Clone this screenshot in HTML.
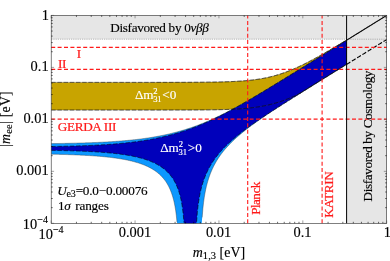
<!DOCTYPE html>
<html><head><meta charset="utf-8">
<style>
html,body{margin:0;padding:0;background:#fff;}
body{width:390px;height:261px;overflow:hidden;position:relative;}
svg{position:absolute;left:0;top:0;will-change:transform;}
text{font-family:"Liberation Serif",serif;}
.t{font-size:14.4px;fill:#000;stroke:#000;stroke-width:0.15px;}
.a{font-size:12.5px;}
.r{fill:#ff2020;}
.w{fill:#fff;}
.i{font-style:italic;}
</style></head><body>
<svg width="390" height="261" viewBox="0 0 390 261">
<defs>
<clipPath id="cpL"><rect x="51.2" y="15.4" width="295.4" height="207.9"/></clipPath>
<clipPath id="cpA"><rect x="51.2" y="15.4" width="335.5" height="207.9"/></clipPath>
<clipPath id="cpR"><rect x="346.6" y="15.4" width="40.1" height="207.9"/></clipPath>
</defs>
<rect x="0" y="0" width="390" height="261" fill="#fff"/>
<!-- grey regions -->
<rect x="51.2" y="15.4" width="295.4" height="23.8" fill="#e6e6e6"/>
<rect x="346.6" y="15.4" width="40.1" height="207.9" fill="#e6e6e6"/>
<!-- bands -->
<g clip-path="url(#cpL)">
<polygon points="51.20,82.39 51.90,82.39 52.60,82.39 53.30,82.39 54.00,82.39 54.69,82.39 55.39,82.39 56.09,82.39 56.79,82.39 57.49,82.39 58.19,82.39 58.89,82.39 59.59,82.39 60.29,82.39 60.99,82.39 61.68,82.39 62.38,82.39 63.08,82.39 63.78,82.39 64.48,82.39 65.18,82.39 65.88,82.39 66.58,82.39 67.28,82.39 67.98,82.39 68.67,82.39 69.37,82.39 70.07,82.39 70.77,82.39 71.47,82.39 72.17,82.39 72.87,82.39 73.57,82.39 74.27,82.39 74.96,82.39 75.66,82.39 76.36,82.39 77.06,82.39 77.76,82.39 78.46,82.39 79.16,82.39 79.86,82.39 80.56,82.39 81.26,82.39 81.95,82.39 82.65,82.39 83.35,82.39 84.05,82.39 84.75,82.39 85.45,82.39 86.15,82.39 86.85,82.39 87.55,82.39 88.24,82.39 88.94,82.39 89.64,82.39 90.34,82.39 91.04,82.39 91.74,82.39 92.44,82.39 93.14,82.39 93.84,82.39 94.54,82.39 95.23,82.39 95.93,82.39 96.63,82.39 97.33,82.39 98.03,82.39 98.73,82.39 99.43,82.39 100.13,82.39 100.83,82.39 101.53,82.39 102.22,82.39 102.92,82.39 103.62,82.39 104.32,82.39 105.02,82.39 105.72,82.39 106.42,82.39 107.12,82.39 107.82,82.39 108.51,82.39 109.21,82.39 109.91,82.39 110.61,82.39 111.31,82.39 112.01,82.39 112.71,82.39 113.41,82.39 114.11,82.39 114.81,82.39 115.50,82.39 116.20,82.39 116.90,82.39 117.60,82.39 118.30,82.39 119.00,82.39 119.70,82.39 120.40,82.39 121.10,82.39 121.79,82.39 122.49,82.39 123.19,82.39 123.89,82.39 124.59,82.39 125.29,82.39 125.99,82.39 126.69,82.39 127.39,82.39 128.09,82.39 128.78,82.39 129.48,82.38 130.18,82.38 130.88,82.38 131.58,82.38 132.28,82.38 132.98,82.38 133.68,82.38 134.38,82.38 135.07,82.38 135.77,82.38 136.47,82.38 137.17,82.38 137.87,82.38 138.57,82.38 139.27,82.38 139.97,82.38 140.67,82.38 141.37,82.38 142.06,82.38 142.76,82.38 143.46,82.38 144.16,82.38 144.86,82.38 145.56,82.38 146.26,82.38 146.96,82.38 147.66,82.38 148.36,82.38 149.05,82.38 149.75,82.38 150.45,82.38 151.15,82.38 151.85,82.38 152.55,82.38 153.25,82.38 153.95,82.38 154.65,82.38 155.34,82.38 156.04,82.37 156.74,82.37 157.44,82.37 158.14,82.37 158.84,82.37 159.54,82.37 160.24,82.37 160.94,82.37 161.64,82.37 162.33,82.37 163.03,82.37 163.73,82.37 164.43,82.37 165.13,82.37 165.83,82.37 166.53,82.36 167.23,82.36 167.93,82.36 168.62,82.36 169.32,82.36 170.02,82.36 170.72,82.36 171.42,82.36 172.12,82.36 172.82,82.35 173.52,82.35 174.22,82.35 174.92,82.35 175.61,82.35 176.31,82.35 177.01,82.35 177.71,82.34 178.41,82.34 179.11,82.34 179.81,82.34 180.51,82.34 181.21,82.33 181.91,82.33 182.60,82.33 183.30,82.33 184.00,82.33 184.70,82.32 185.40,82.32 186.10,82.32 186.80,82.32 187.50,82.31 188.20,82.31 188.89,82.31 189.59,82.30 190.29,82.30 190.99,82.30 191.69,82.29 192.39,82.29 193.09,82.29 193.79,82.28 194.49,82.28 195.19,82.27 195.88,82.27 196.58,82.26 197.28,82.26 197.98,82.25 198.68,82.25 199.38,82.24 200.08,82.24 200.78,82.23 201.48,82.23 202.18,82.22 202.87,82.21 203.57,82.21 204.27,82.20 204.97,82.19 205.67,82.18 206.37,82.18 207.07,82.17 207.77,82.16 208.47,82.15 209.16,82.14 209.86,82.13 210.56,82.12 211.26,82.11 211.96,82.10 212.66,82.09 213.36,82.08 214.06,82.07 214.76,82.05 215.46,82.04 216.15,82.03 216.85,82.01 217.55,82.00 218.25,81.98 218.95,81.97 219.65,81.95 220.35,81.94 221.05,81.92 221.75,81.90 222.44,81.88 223.14,81.86 223.84,81.84 224.54,81.82 225.24,81.80 225.94,81.78 226.64,81.76 227.34,81.73 228.04,81.71 228.74,81.68 229.43,81.65 230.13,81.63 230.83,81.60 231.53,81.57 232.23,81.54 232.93,81.50 233.63,81.47 234.33,81.44 235.03,81.40 235.73,81.36 236.42,81.33 237.12,81.29 237.82,81.24 238.52,81.20 239.22,81.16 239.92,81.11 240.62,81.07 241.32,81.02 242.02,80.97 242.71,80.91 243.41,80.86 244.11,80.81 244.81,80.75 245.51,80.69 246.21,80.63 246.91,80.56 247.61,80.50 248.31,80.43 249.01,80.36 249.70,80.29 250.40,80.21 251.10,80.13 251.80,80.05 252.50,79.97 253.20,79.89 253.90,79.80 254.60,79.71 255.30,79.62 255.99,79.52 256.69,79.42 257.39,79.32 258.09,79.22 258.79,79.11 259.49,79.00 260.19,78.88 260.89,78.77 261.59,78.65 262.29,78.52 262.98,78.40 263.68,78.27 264.38,78.13 265.08,77.99 265.78,77.85 266.48,77.71 267.18,77.56 267.88,77.40 268.58,77.25 269.28,77.09 269.97,76.92 270.67,76.76 271.37,76.58 272.07,76.41 272.77,76.23 273.47,76.04 274.17,75.85 274.87,75.66 275.57,75.47 276.26,75.26 276.96,75.06 277.66,74.85 278.36,74.64 279.06,74.42 279.76,74.20 280.46,73.97 281.16,73.74 281.86,73.51 282.56,73.27 283.25,73.03 283.95,72.78 284.65,72.53 285.35,72.28 286.05,72.02 286.75,71.76 287.45,71.49 288.15,71.22 288.85,70.95 289.54,70.67 290.24,70.39 290.94,70.10 291.64,69.81 292.34,69.52 293.04,69.23 293.74,68.93 294.44,68.62 295.14,68.32 295.84,68.00 296.53,67.69 297.23,67.37 297.93,67.05 298.63,66.73 299.33,66.40 300.03,66.07 300.73,65.74 301.43,65.41 302.13,65.07 302.82,64.73 303.52,64.38 304.22,64.04 304.92,63.69 305.62,63.34 306.32,62.98 307.02,62.62 307.72,62.27 308.42,61.90 309.12,61.54 309.81,61.17 310.51,60.81 311.21,60.44 311.91,60.06 312.61,59.69 313.31,59.31 314.01,58.94 314.71,58.56 315.41,58.17 316.11,57.79 316.80,57.41 317.50,57.02 318.20,56.63 318.90,56.24 319.60,55.85 320.30,55.46 321.00,55.06 321.70,54.67 322.40,54.27 323.09,53.87 323.79,53.47 324.49,53.07 325.19,52.67 325.89,52.27 326.59,51.87 327.29,51.46 327.99,51.06 328.69,50.65 329.39,50.24 330.08,49.83 330.78,49.42 331.48,49.01 332.18,48.60 332.88,48.19 333.58,47.78 334.28,47.37 334.98,46.95 335.68,46.54 336.38,46.12 337.07,45.71 337.77,45.29 338.47,44.87 339.17,44.45 339.87,44.04 340.57,43.62 341.27,43.20 341.97,42.78 342.67,42.36 343.36,41.94 344.06,41.51 344.76,41.09 345.46,40.67 346.16,40.25 346.86,39.83 347.56,39.40 348.26,38.98 348.96,38.55 349.66,38.13 350.35,37.71 351.05,37.28 351.75,36.85 352.45,36.43 353.15,36.00 353.85,35.58 354.55,35.15 355.25,34.72 355.95,34.30 356.64,33.87 357.34,33.44 358.04,33.02 358.74,32.59 359.44,32.16 360.14,31.73 360.84,31.30 361.54,30.87 362.24,30.45 362.94,30.02 363.63,29.59 364.33,29.16 365.03,28.73 365.73,28.30 366.43,27.87 367.13,27.44 367.83,27.01 368.53,26.58 369.23,26.15 369.92,25.72 370.62,25.29 371.32,24.86 372.02,24.43 372.72,24.00 373.42,23.57 374.12,23.14 374.82,22.71 375.52,22.27 376.22,21.84 376.91,21.41 377.61,20.98 378.31,20.55 379.01,20.12 379.71,19.69 380.41,19.26 381.11,18.82 381.81,18.39 382.51,17.96 383.21,17.53 383.90,17.10 384.60,16.67 385.30,16.23 386.00,15.80 386.70,15.37 386.70,39.32 386.00,39.76 385.30,40.19 384.60,40.62 383.90,41.06 383.21,41.49 382.51,41.92 381.81,42.36 381.11,42.79 380.41,43.22 379.71,43.66 379.01,44.09 378.31,44.52 377.61,44.96 376.91,45.39 376.22,45.82 375.52,46.26 374.82,46.69 374.12,47.12 373.42,47.56 372.72,47.99 372.02,48.42 371.32,48.85 370.62,49.29 369.92,49.72 369.23,50.15 368.53,50.59 367.83,51.02 367.13,51.45 366.43,51.89 365.73,52.32 365.03,52.75 364.33,53.19 363.63,53.62 362.94,54.05 362.24,54.49 361.54,54.92 360.84,55.35 360.14,55.79 359.44,56.22 358.74,56.65 358.04,57.09 357.34,57.52 356.64,57.95 355.95,58.39 355.25,58.82 354.55,59.25 353.85,59.69 353.15,60.12 352.45,60.55 351.75,60.99 351.05,61.42 350.35,61.85 349.66,62.29 348.96,62.72 348.26,63.15 347.56,63.59 346.86,64.02 346.16,64.45 345.46,64.89 344.76,65.32 344.06,65.76 343.36,66.19 342.67,66.62 341.97,67.06 341.27,67.49 340.57,67.92 339.87,68.36 339.17,68.79 338.47,69.22 337.77,69.66 337.07,70.09 336.38,70.53 335.68,70.96 334.98,71.39 334.28,71.83 333.58,72.26 332.88,72.70 332.18,73.13 331.48,73.56 330.78,74.00 330.08,74.43 329.39,74.87 328.69,75.30 327.99,75.73 327.29,76.17 326.59,76.60 325.89,77.04 325.19,77.47 324.49,77.91 323.79,78.34 323.09,78.77 322.40,79.21 321.70,79.64 321.00,80.08 320.30,80.51 319.60,80.95 318.90,81.38 318.20,81.82 317.50,82.25 316.80,82.69 316.11,83.12 315.41,83.56 314.71,83.99 314.01,84.43 313.31,84.86 312.61,85.30 311.91,85.74 311.21,86.17 310.51,86.61 309.81,87.04 309.12,87.48 308.42,87.91 307.72,88.35 307.02,88.79 306.32,89.22 305.62,89.66 304.92,90.10 304.22,90.53 303.52,90.97 302.82,91.41 302.13,91.85 301.43,92.28 300.73,92.72 300.03,93.16 299.33,93.60 298.63,94.04 297.93,94.47 297.23,94.83 296.53,95.15 295.84,95.47 295.14,95.79 294.44,96.10 293.74,96.41 293.04,96.71 292.34,97.01 291.64,97.31 290.94,97.60 290.24,97.89 289.54,98.18 288.85,98.46 288.15,98.74 287.45,99.01 286.75,99.28 286.05,99.55 285.35,99.81 284.65,100.07 283.95,100.33 283.25,100.58 282.56,100.82 281.86,101.07 281.16,101.31 280.46,101.54 279.76,101.77 279.06,102.00 278.36,102.22 277.66,102.44 276.96,102.65 276.26,102.86 275.57,103.06 274.87,103.26 274.17,103.46 273.47,103.65 272.77,103.84 272.07,104.03 271.37,104.21 270.67,104.38 269.97,104.56 269.28,104.72 268.58,104.89 267.88,105.05 267.18,105.20 266.48,105.36 265.78,105.51 265.08,105.65 264.38,105.79 263.68,105.93 262.98,106.06 262.29,106.19 261.59,106.32 260.89,106.44 260.19,106.56 259.49,106.68 258.79,106.79 258.09,106.90 257.39,107.01 256.69,107.11 255.99,107.22 255.30,107.31 254.60,107.41 253.90,107.50 253.20,107.59 252.50,107.68 251.80,107.76 251.10,107.84 250.40,107.92 249.70,108.00 249.01,108.07 248.31,108.14 247.61,108.21 246.91,108.28 246.21,108.34 245.51,108.40 244.81,108.46 244.11,108.52 243.41,108.58 242.71,108.63 242.02,108.69 241.32,108.74 240.62,108.79 239.92,108.83 239.22,108.88 238.52,108.92 237.82,108.97 237.12,109.01 236.42,109.05 235.73,109.09 235.03,109.12 234.33,109.16 233.63,109.19 232.93,109.23 232.23,109.26 231.53,109.29 230.83,109.32 230.13,109.35 229.43,109.37 228.74,109.40 228.04,109.43 227.34,109.45 226.64,109.48 225.94,109.50 225.24,109.52 224.54,109.54 223.84,109.56 223.14,109.58 222.44,109.60 221.75,109.62 221.05,109.64 220.35,109.65 219.65,109.67 218.95,109.68 218.25,109.70 217.55,109.71 216.85,109.73 216.15,109.74 215.46,109.75 214.76,109.77 214.06,109.78 213.36,109.79 212.66,109.80 211.96,109.81 211.26,109.82 210.56,109.83 209.86,109.84 209.16,109.85 208.47,109.86 207.77,109.87 207.07,109.87 206.37,109.88 205.67,109.89 204.97,109.90 204.27,109.90 203.57,109.91 202.87,109.91 202.18,109.92 201.48,109.93 200.78,109.93 200.08,109.94 199.38,109.94 198.68,109.95 197.98,109.95 197.28,109.96 196.58,109.96 195.88,109.96 195.19,109.97 194.49,109.97 193.79,109.98 193.09,109.98 192.39,109.98 191.69,109.99 190.99,109.99 190.29,109.99 189.59,109.99 188.89,110.00 188.20,110.00 187.50,110.00 186.80,110.00 186.10,110.01 185.40,110.01 184.70,110.01 184.00,110.01 183.30,110.01 182.60,110.02 181.91,110.02 181.21,110.02 180.51,110.02 179.81,110.02 179.11,110.02 178.41,110.02 177.71,110.03 177.01,110.03 176.31,110.03 175.61,110.03 174.92,110.03 174.22,110.03 173.52,110.03 172.82,110.03 172.12,110.03 171.42,110.04 170.72,110.04 170.02,110.04 169.32,110.04 168.62,110.04 167.93,110.04 167.23,110.04 166.53,110.04 165.83,110.04 165.13,110.04 164.43,110.04 163.73,110.04 163.03,110.04 162.33,110.04 161.64,110.04 160.94,110.04 160.24,110.04 159.54,110.04 158.84,110.05 158.14,110.05 157.44,110.05 156.74,110.05 156.04,110.05 155.34,110.05 154.65,110.05 153.95,110.05 153.25,110.05 152.55,110.05 151.85,110.05 151.15,110.05 150.45,110.05 149.75,110.05 149.05,110.05 148.36,110.05 147.66,110.05 146.96,110.05 146.26,110.05 145.56,110.05 144.86,110.05 144.16,110.05 143.46,110.05 142.76,110.05 142.06,110.05 141.37,110.05 140.67,110.05 139.97,110.05 139.27,110.05 138.57,110.05 137.87,110.05 137.17,110.05 136.47,110.05 135.77,110.05 135.07,110.05 134.38,110.05 133.68,110.05 132.98,110.05 132.28,110.05 131.58,110.05 130.88,110.05 130.18,110.05 129.48,110.05 128.78,110.05 128.09,110.05 127.39,110.05 126.69,110.05 125.99,110.05 125.29,110.05 124.59,110.05 123.89,110.05 123.19,110.05 122.49,110.05 121.79,110.05 121.10,110.05 120.40,110.05 119.70,110.05 119.00,110.05 118.30,110.05 117.60,110.05 116.90,110.05 116.20,110.05 115.50,110.05 114.81,110.05 114.11,110.05 113.41,110.05 112.71,110.05 112.01,110.05 111.31,110.05 110.61,110.05 109.91,110.05 109.21,110.05 108.51,110.05 107.82,110.05 107.12,110.05 106.42,110.05 105.72,110.05 105.02,110.05 104.32,110.05 103.62,110.05 102.92,110.05 102.22,110.05 101.53,110.05 100.83,110.05 100.13,110.05 99.43,110.05 98.73,110.05 98.03,110.05 97.33,110.05 96.63,110.05 95.93,110.05 95.23,110.05 94.54,110.05 93.84,110.05 93.14,110.05 92.44,110.05 91.74,110.05 91.04,110.05 90.34,110.05 89.64,110.05 88.94,110.05 88.24,110.05 87.55,110.05 86.85,110.05 86.15,110.05 85.45,110.05 84.75,110.05 84.05,110.05 83.35,110.05 82.65,110.05 81.95,110.05 81.26,110.05 80.56,110.05 79.86,110.05 79.16,110.05 78.46,110.05 77.76,110.05 77.06,110.05 76.36,110.05 75.66,110.05 74.96,110.05 74.27,110.05 73.57,110.05 72.87,110.05 72.17,110.05 71.47,110.05 70.77,110.05 70.07,110.05 69.37,110.05 68.67,110.05 67.98,110.05 67.28,110.05 66.58,110.05 65.88,110.05 65.18,110.05 64.48,110.05 63.78,110.05 63.08,110.05 62.38,110.05 61.68,110.05 60.99,110.05 60.29,110.05 59.59,110.05 58.89,110.05 58.19,110.05 57.49,110.05 56.79,110.05 56.09,110.05 55.39,110.05 54.69,110.05 54.00,110.05 53.30,110.05 52.60,110.05 51.90,110.05 51.20,110.05" fill="#c8a400"/>
<polygon points="51.20,143.59 51.90,143.59 52.60,143.58 53.30,143.57 54.00,143.56 54.69,143.55 55.39,143.54 56.09,143.53 56.79,143.52 57.49,143.51 58.19,143.49 58.89,143.48 59.59,143.47 60.29,143.46 60.99,143.45 61.68,143.44 62.38,143.43 63.08,143.41 63.78,143.40 64.48,143.39 65.18,143.37 65.88,143.36 66.58,143.35 67.28,143.33 67.98,143.32 68.67,143.31 69.37,143.29 70.07,143.28 70.77,143.26 71.47,143.24 72.17,143.23 72.87,143.21 73.57,143.20 74.27,143.18 74.96,143.16 75.66,143.15 76.36,143.13 77.06,143.11 77.76,143.09 78.46,143.07 79.16,143.05 79.86,143.03 80.56,143.01 81.26,142.99 81.95,142.97 82.65,142.95 83.35,142.93 84.05,142.91 84.75,142.89 85.45,142.87 86.15,142.84 86.85,142.82 87.55,142.80 88.24,142.77 88.94,142.75 89.64,142.72 90.34,142.70 91.04,142.67 91.74,142.64 92.44,142.62 93.14,142.59 93.84,142.56 94.54,142.53 95.23,142.51 95.93,142.48 96.63,142.45 97.33,142.42 98.03,142.38 98.73,142.35 99.43,142.32 100.13,142.29 100.83,142.25 101.53,142.22 102.22,142.18 102.92,142.15 103.62,142.11 104.32,142.08 105.02,142.04 105.72,142.00 106.42,141.96 107.12,141.92 107.82,141.88 108.51,141.84 109.21,141.80 109.91,141.76 110.61,141.72 111.31,141.67 112.01,141.63 112.71,141.58 113.41,141.54 114.11,141.49 114.81,141.44 115.50,141.39 116.20,141.35 116.90,141.29 117.60,141.24 118.30,141.19 119.00,141.14 119.70,141.08 120.40,141.03 121.10,140.97 121.79,140.92 122.49,140.86 123.19,140.80 123.89,140.74 124.59,140.68 125.29,140.62 125.99,140.56 126.69,140.49 127.39,140.43 128.09,140.36 128.78,140.29 129.48,140.23 130.18,140.16 130.88,140.09 131.58,140.01 132.28,139.94 132.98,139.87 133.68,139.79 134.38,139.72 135.07,139.64 135.77,139.56 136.47,139.48 137.17,139.40 137.87,139.31 138.57,139.23 139.27,139.14 139.97,139.06 140.67,138.97 141.37,138.88 142.06,138.79 142.76,138.69 143.46,138.60 144.16,138.50 144.86,138.40 145.56,138.31 146.26,138.20 146.96,138.10 147.66,138.00 148.36,137.89 149.05,137.79 149.75,137.68 150.45,137.57 151.15,137.46 151.85,137.34 152.55,137.23 153.25,137.11 153.95,136.99 154.65,136.87 155.34,136.75 156.04,136.62 156.74,136.50 157.44,136.37 158.14,136.24 158.84,136.11 159.54,135.97 160.24,135.84 160.94,135.70 161.64,135.56 162.33,135.42 163.03,135.27 163.73,135.13 164.43,134.98 165.13,134.83 165.83,134.68 166.53,134.52 167.23,134.37 167.93,134.21 168.62,134.05 169.32,133.89 170.02,133.72 170.72,133.56 171.42,133.39 172.12,133.21 172.82,133.04 173.52,132.87 174.22,132.69 174.92,132.51 175.61,132.32 176.31,132.14 177.01,131.95 177.71,131.76 178.41,131.57 179.11,131.37 179.81,131.18 180.51,130.98 181.21,130.78 181.91,130.57 182.60,130.36 183.30,130.15 184.00,129.94 184.70,129.73 185.40,129.51 186.10,129.29 186.80,129.07 187.50,128.85 188.20,128.62 188.89,128.39 189.59,128.16 190.29,127.92 190.99,127.69 191.69,127.45 192.39,127.20 193.09,126.96 193.79,126.71 194.49,126.46 195.19,126.21 195.88,125.96 196.58,125.70 197.28,125.44 197.98,125.17 198.68,124.91 199.38,124.64 200.08,124.37 200.78,124.10 201.48,123.82 202.18,123.54 202.87,123.26 203.57,122.98 204.27,122.69 204.97,122.40 205.67,122.11 206.37,121.82 207.07,121.52 207.77,121.22 208.47,120.92 209.16,120.62 209.86,120.31 210.56,120.00 211.26,119.69 211.96,119.38 212.66,119.06 213.36,118.75 214.06,118.43 214.76,118.10 215.46,117.78 216.15,117.45 216.85,117.12 217.55,116.79 218.25,116.45 218.95,116.12 219.65,115.78 220.35,115.44 221.05,115.09 221.75,114.75 222.44,114.40 223.14,114.05 223.84,113.70 224.54,113.35 225.24,112.99 225.94,112.63 226.64,112.27 227.34,111.91 228.04,111.55 228.74,111.18 229.43,110.82 230.13,110.45 230.83,110.08 231.53,109.71 232.23,109.33 232.93,108.96 233.63,108.58 234.33,108.20 235.03,107.82 235.73,107.44 236.42,107.06 237.12,106.67 237.82,106.29 238.52,105.90 239.22,105.51 239.92,105.12 240.62,104.73 241.32,104.34 242.02,103.94 242.71,103.55 243.41,103.15 244.11,102.75 244.81,102.35 245.51,101.96 246.21,101.55 246.91,101.15 247.61,100.75 248.31,100.35 249.01,99.94 249.70,99.54 250.40,99.13 251.10,98.72 251.80,98.31 252.50,97.90 253.20,97.49 253.90,97.08 254.60,96.67 255.30,96.26 255.99,95.85 256.69,95.43 257.39,95.02 258.09,94.60 258.79,94.19 259.49,93.77 260.19,93.36 260.89,92.94 261.59,92.52 262.29,92.10 262.98,91.68 263.68,91.27 264.38,90.85 265.08,90.42 265.78,90.00 266.48,89.58 267.18,89.16 267.88,88.74 268.58,88.32 269.28,87.89 269.97,87.47 270.67,87.05 271.37,86.62 272.07,86.20 272.77,85.77 273.47,85.35 274.17,84.92 274.87,84.50 275.57,84.07 276.26,83.65 276.96,83.22 277.66,82.79 278.36,82.37 279.06,81.94 279.76,81.51 280.46,81.09 281.16,80.66 281.86,80.23 282.56,79.80 283.25,79.37 283.95,78.95 284.65,78.52 285.35,78.09 286.05,77.66 286.75,77.23 287.45,76.80 288.15,76.37 288.85,75.94 289.54,75.51 290.24,75.08 290.94,74.65 291.64,74.22 292.34,73.79 293.04,73.36 293.74,72.93 294.44,72.50 295.14,72.07 295.84,71.64 296.53,71.21 297.23,70.78 297.93,70.35 298.63,69.92 299.33,69.49 300.03,69.06 300.73,68.63 301.43,68.19 302.13,67.76 302.82,67.33 303.52,66.90 304.22,66.47 304.92,66.04 305.62,65.60 306.32,65.17 307.02,64.74 307.72,64.31 308.42,63.88 309.12,63.45 309.81,63.01 310.51,62.58 311.21,62.15 311.91,61.72 312.61,61.29 313.31,60.85 314.01,60.42 314.71,59.99 315.41,59.56 316.11,59.12 316.80,58.69 317.50,58.26 318.20,57.83 318.90,57.39 319.60,56.96 320.30,56.53 321.00,56.10 321.70,55.66 322.40,55.23 323.09,54.80 323.79,54.37 324.49,53.93 325.19,53.50 325.89,53.07 326.59,52.64 327.29,52.20 327.99,51.77 328.69,51.34 329.39,50.91 330.08,50.47 330.78,50.04 331.48,49.61 332.18,49.17 332.88,48.74 333.58,48.31 334.28,47.88 334.98,47.44 335.68,47.01 336.38,46.58 337.07,46.15 337.77,45.71 338.47,45.28 339.17,44.85 339.87,44.41 340.57,43.98 341.27,43.55 341.97,43.11 342.67,42.68 343.36,42.25 344.06,41.82 344.76,41.38 345.46,40.95 346.16,40.52 346.86,40.08 347.56,39.65 348.26,39.22 348.96,38.79 349.66,38.35 350.35,37.92 351.05,37.49 351.75,37.05 352.45,36.62 353.15,36.19 353.85,35.75 354.55,35.32 355.25,34.89 355.95,34.46 356.64,34.02 357.34,33.59 358.04,33.16 358.74,32.72 359.44,32.29 360.14,31.86 360.84,31.42 361.54,30.99 362.24,30.56 362.94,30.12 363.63,29.69 364.33,29.26 365.03,28.83 365.73,28.39 366.43,27.96 367.13,27.53 367.83,27.09 368.53,26.66 369.23,26.23 369.92,25.79 370.62,25.36 371.32,24.93 372.02,24.49 372.72,24.06 373.42,23.63 374.12,23.20 374.82,22.76 375.52,22.33 376.22,21.90 376.91,21.46 377.61,21.03 378.31,20.60 379.01,20.16 379.71,19.73 380.41,19.30 381.11,18.86 381.81,18.43 382.51,18.00 383.21,17.57 383.90,17.13 384.60,16.70 385.30,16.27 386.00,15.83 386.70,15.40 386.70,39.55 386.00,39.98 385.30,40.42 384.60,40.85 383.90,41.28 383.21,41.71 382.51,42.15 381.81,42.58 381.11,43.01 380.41,43.45 379.71,43.88 379.01,44.31 378.31,44.75 377.61,45.18 376.91,45.61 376.22,46.05 375.52,46.48 374.82,46.91 374.12,47.35 373.42,47.78 372.72,48.21 372.02,48.65 371.32,49.08 370.62,49.51 369.92,49.95 369.23,50.38 368.53,50.81 367.83,51.25 367.13,51.68 366.43,52.11 365.73,52.55 365.03,52.98 364.33,53.41 363.63,53.85 362.94,54.28 362.24,54.71 361.54,55.14 360.84,55.58 360.14,56.01 359.44,56.44 358.74,56.88 358.04,57.31 357.34,57.74 356.64,58.18 355.95,58.61 355.25,59.04 354.55,59.48 353.85,59.91 353.15,60.34 352.45,60.78 351.75,61.21 351.05,61.65 350.35,62.08 349.66,62.51 348.96,62.95 348.26,63.38 347.56,63.81 346.86,64.25 346.16,64.68 345.46,65.11 344.76,65.55 344.06,65.98 343.36,66.41 342.67,66.85 341.97,67.28 341.27,67.71 340.57,68.15 339.87,68.58 339.17,69.02 338.47,69.45 337.77,69.88 337.07,70.32 336.38,70.75 335.68,71.18 334.98,71.62 334.28,72.05 333.58,72.49 332.88,72.92 332.18,73.35 331.48,73.79 330.78,74.22 330.08,74.66 329.39,75.09 328.69,75.52 327.99,75.96 327.29,76.39 326.59,76.83 325.89,77.26 325.19,77.70 324.49,78.13 323.79,78.56 323.09,79.00 322.40,79.43 321.70,79.87 321.00,80.30 320.30,80.74 319.60,81.17 318.90,81.61 318.20,82.04 317.50,82.48 316.80,82.91 316.11,83.35 315.41,83.78 314.71,84.22 314.01,84.65 313.31,85.09 312.61,85.52 311.91,85.96 311.21,86.40 310.51,86.83 309.81,87.27 309.12,87.70 308.42,88.14 307.72,88.58 307.02,89.01 306.32,89.45 305.62,89.89 304.92,90.32 304.22,90.76 303.52,91.20 302.82,91.63 302.13,92.07 301.43,92.51 300.73,92.95 300.03,93.38 299.33,93.82 298.63,94.26 297.93,94.70 297.23,95.14 296.53,95.58 295.84,96.02 295.14,96.45 294.44,96.89 293.74,97.33 293.04,97.77 292.34,98.21 291.64,98.66 290.94,99.10 290.24,99.54 289.54,99.98 288.85,100.42 288.15,100.86 287.45,101.31 286.75,101.75 286.05,102.19 285.35,102.63 284.65,103.08 283.95,103.52 283.25,103.97 282.56,104.41 281.86,104.86 281.16,105.30 280.46,105.75 279.76,106.20 279.06,106.65 278.36,107.09 277.66,107.54 276.96,107.99 276.26,108.44 275.57,108.89 274.87,109.34 274.17,109.80 273.47,110.25 272.77,110.71 272.07,111.17 271.37,111.64 270.67,112.10 269.97,112.57 269.28,113.03 268.58,113.50 267.88,113.97 267.18,114.44 266.48,114.91 265.78,115.39 265.08,115.86 264.38,116.34 263.68,116.82 262.98,117.30 262.29,117.78 261.59,118.26 260.89,118.75 260.19,119.23 259.49,119.72 258.79,120.21 258.09,120.71 257.39,121.20 256.69,121.70 255.99,122.20 255.30,122.70 254.60,123.21 253.90,123.72 253.20,124.23 252.50,124.74 251.80,125.26 251.10,125.78 250.40,126.30 249.70,126.82 249.01,127.35 248.31,127.89 247.61,128.42 246.91,128.97 246.21,129.51 245.51,130.06 244.81,130.61 244.11,131.17 243.41,131.73 242.71,132.30 242.02,132.88 241.32,133.45 240.62,134.04 239.92,134.63 239.22,135.23 238.52,135.83 237.82,136.44 237.12,137.06 236.42,137.68 235.73,138.31 235.03,138.95 234.33,139.60 233.63,140.26 232.93,140.93 232.23,141.60 231.53,142.29 230.83,142.99 230.13,143.70 229.43,144.42 228.74,145.15 228.04,145.90 227.34,146.66 226.64,147.43 225.94,148.23 225.24,149.03 224.54,149.86 223.84,150.70 223.14,151.57 222.44,152.45 221.75,153.36 221.05,154.30 220.35,155.25 219.65,156.24 218.95,157.26 218.25,158.31 217.55,159.39 216.85,160.52 216.15,161.68 215.46,162.89 214.76,164.15 214.06,165.47 213.36,166.84 212.66,168.29 211.96,169.81 211.26,171.42 210.56,173.12 209.86,174.94 209.16,176.89 208.47,178.99 207.77,181.27 207.07,183.77 206.37,186.54 205.67,189.65 204.97,193.20 204.27,197.35 203.57,202.36 202.87,208.70 202.18,217.39 201.48,226.30 200.78,226.30 200.08,226.30 199.38,226.30 198.68,226.30 197.98,226.30 197.28,226.30 196.58,226.30 195.88,226.30 195.19,226.30 194.49,226.30 193.79,226.30 193.09,226.30 192.39,226.30 191.69,226.30 190.99,226.30 190.29,226.30 189.59,226.30 188.89,226.30 188.20,226.30 187.50,226.30 186.80,226.30 186.10,226.30 185.40,226.30 184.70,226.30 184.00,226.30 183.30,226.30 182.60,226.30 181.91,226.30 181.21,226.30 180.51,226.30 179.81,226.30 179.11,226.30 178.41,226.30 177.71,226.30 177.01,222.17 176.31,215.29 175.61,210.11 174.92,205.96 174.22,202.51 173.52,199.57 172.82,197.00 172.12,194.74 171.42,192.71 170.72,190.89 170.02,189.22 169.32,187.70 168.62,186.30 167.93,185.00 167.23,183.79 166.53,182.66 165.83,181.60 165.13,180.61 164.43,179.68 163.73,178.80 163.03,177.96 162.33,177.17 161.64,176.42 160.94,175.70 160.24,175.02 159.54,174.37 158.84,173.75 158.14,173.16 157.44,172.59 156.74,172.05 156.04,171.53 155.34,171.02 154.65,170.54 153.95,170.08 153.25,169.63 152.55,169.20 151.85,168.79 151.15,168.39 150.45,168.00 149.75,167.63 149.05,167.27 148.36,166.92 147.66,166.58 146.96,166.25 146.26,165.94 145.56,165.63 144.86,165.33 144.16,165.05 143.46,164.77 142.76,164.50 142.06,164.23 141.37,163.98 140.67,163.73 139.97,163.49 139.27,163.26 138.57,163.03 137.87,162.81 137.17,162.60 136.47,162.39 135.77,162.18 135.07,161.99 134.38,161.79 133.68,161.61 132.98,161.42 132.28,161.25 131.58,161.07 130.88,160.91 130.18,160.74 129.48,160.58 128.78,160.42 128.09,160.27 127.39,160.12 126.69,159.98 125.99,159.84 125.29,159.70 124.59,159.57 123.89,159.43 123.19,159.31 122.49,159.18 121.79,159.06 121.10,158.94 120.40,158.82 119.70,158.71 119.00,158.60 118.30,158.49 117.60,158.39 116.90,158.28 116.20,158.18 115.50,158.08 114.81,157.99 114.11,157.89 113.41,157.80 112.71,157.71 112.01,157.62 111.31,157.54 110.61,157.45 109.91,157.37 109.21,157.29 108.51,157.21 107.82,157.13 107.12,157.06 106.42,156.99 105.72,156.91 105.02,156.84 104.32,156.77 103.62,156.71 102.92,156.64 102.22,156.58 101.53,156.51 100.83,156.45 100.13,156.39 99.43,156.33 98.73,156.27 98.03,156.22 97.33,156.16 96.63,156.11 95.93,156.05 95.23,156.00 94.54,155.95 93.84,155.90 93.14,155.85 92.44,155.80 91.74,155.76 91.04,155.71 90.34,155.67 89.64,155.62 88.94,155.58 88.24,155.54 87.55,155.50 86.85,155.46 86.15,155.42 85.45,155.38 84.75,155.34 84.05,155.30 83.35,155.26 82.65,155.23 81.95,155.19 81.26,155.16 80.56,155.13 79.86,155.09 79.16,155.06 78.46,155.03 77.76,155.00 77.06,154.97 76.36,154.94 75.66,154.91 74.96,154.88 74.27,154.85 73.57,154.83 72.87,154.80 72.17,154.77 71.47,154.75 70.77,154.72 70.07,154.70 69.37,154.67 68.67,154.65 67.98,154.62 67.28,154.60 66.58,154.58 65.88,154.56 65.18,154.54 64.48,154.51 63.78,154.49 63.08,154.47 62.38,154.45 61.68,154.43 60.99,154.42 60.29,154.40 59.59,154.38 58.89,154.36 58.19,154.34 57.49,154.33 56.79,154.31 56.09,154.29 55.39,154.28 54.69,154.26 54.00,154.24 53.30,154.23 52.60,154.21 51.90,154.20 51.20,154.18" fill="#0c98ff"/>
<polygon points="51.20,146.52 51.90,146.51 52.60,146.50 53.30,146.49 54.00,146.48 54.69,146.46 55.39,146.45 56.09,146.44 56.79,146.43 57.49,146.41 58.19,146.40 58.89,146.39 59.59,146.37 60.29,146.36 60.99,146.35 61.68,146.33 62.38,146.32 63.08,146.30 63.78,146.29 64.48,146.27 65.18,146.25 65.88,146.24 66.58,146.22 67.28,146.21 67.98,146.19 68.67,146.17 69.37,146.15 70.07,146.14 70.77,146.12 71.47,146.10 72.17,146.08 72.87,146.06 73.57,146.04 74.27,146.02 74.96,146.00 75.66,145.98 76.36,145.96 77.06,145.94 77.76,145.91 78.46,145.89 79.16,145.87 79.86,145.84 80.56,145.82 81.26,145.80 81.95,145.77 82.65,145.75 83.35,145.72 84.05,145.70 84.75,145.67 85.45,145.64 86.15,145.61 86.85,145.59 87.55,145.56 88.24,145.53 88.94,145.50 89.64,145.47 90.34,145.44 91.04,145.41 91.74,145.38 92.44,145.34 93.14,145.31 93.84,145.28 94.54,145.24 95.23,145.21 95.93,145.17 96.63,145.14 97.33,145.10 98.03,145.06 98.73,145.03 99.43,144.99 100.13,144.95 100.83,144.91 101.53,144.87 102.22,144.83 102.92,144.78 103.62,144.74 104.32,144.70 105.02,144.65 105.72,144.61 106.42,144.56 107.12,144.52 107.82,144.47 108.51,144.42 109.21,144.37 109.91,144.32 110.61,144.27 111.31,144.22 112.01,144.17 112.71,144.11 113.41,144.06 114.11,144.00 114.81,143.94 115.50,143.89 116.20,143.83 116.90,143.77 117.60,143.71 118.30,143.65 119.00,143.59 119.70,143.52 120.40,143.46 121.10,143.39 121.79,143.32 122.49,143.26 123.19,143.19 123.89,143.12 124.59,143.05 125.29,142.97 125.99,142.90 126.69,142.83 127.39,142.75 128.09,142.67 128.78,142.59 129.48,142.51 130.18,142.43 130.88,142.35 131.58,142.27 132.28,142.18 132.98,142.09 133.68,142.01 134.38,141.92 135.07,141.83 135.77,141.73 136.47,141.64 137.17,141.55 137.87,141.45 138.57,141.35 139.27,141.25 139.97,141.15 140.67,141.05 141.37,140.94 142.06,140.84 142.76,140.73 143.46,140.62 144.16,140.51 144.86,140.40 145.56,140.28 146.26,140.17 146.96,140.05 147.66,139.93 148.36,139.81 149.05,139.69 149.75,139.57 150.45,139.44 151.15,139.31 151.85,139.18 152.55,139.05 153.25,138.92 153.95,138.78 154.65,138.64 155.34,138.50 156.04,138.36 156.74,138.22 157.44,138.07 158.14,137.93 158.84,137.78 159.54,137.63 160.24,137.47 160.94,137.32 161.64,137.16 162.33,137.00 163.03,136.84 163.73,136.68 164.43,136.51 165.13,136.34 165.83,136.18 166.53,136.00 167.23,135.83 167.93,135.65 168.62,135.47 169.32,135.29 170.02,135.11 170.72,134.92 171.42,134.74 172.12,134.55 172.82,134.36 173.52,134.16 174.22,133.96 174.92,133.77 175.61,133.56 176.31,133.36 177.01,133.15 177.71,132.95 178.41,132.74 179.11,132.52 179.81,132.31 180.51,132.09 181.21,131.87 181.91,131.65 182.60,131.42 183.30,131.19 184.00,130.96 184.70,130.73 185.40,130.50 186.10,130.26 186.80,130.02 187.50,129.78 188.20,129.54 188.89,129.29 189.59,129.04 190.29,128.79 190.99,128.53 191.69,128.28 192.39,128.02 193.09,127.76 193.79,127.49 194.49,127.23 195.19,126.96 195.88,126.69 196.58,126.41 197.28,126.14 197.98,125.86 198.68,125.58 199.38,125.29 200.08,125.01 200.78,124.72 201.48,124.43 202.18,124.14 202.87,123.84 203.57,123.54 204.27,123.24 204.97,122.94 205.67,122.64 206.37,122.33 207.07,122.02 207.77,121.71 208.47,121.40 209.16,121.08 209.86,120.76 210.56,120.44 211.26,120.12 211.96,119.79 212.66,119.47 213.36,119.14 214.06,118.80 214.76,118.47 215.46,118.14 216.15,117.80 216.85,117.46 217.55,117.12 218.25,116.77 218.95,116.42 219.65,116.08 220.35,115.73 221.05,115.37 221.75,115.02 222.44,114.67 223.14,114.31 223.84,113.95 224.54,113.59 225.24,113.22 225.94,112.86 226.64,112.49 227.34,112.12 228.04,111.75 228.74,111.38 229.43,111.01 230.13,110.63 230.83,110.26 231.53,109.88 232.23,109.50 232.93,109.12 233.63,108.74 234.33,108.35 235.03,107.97 235.73,107.58 236.42,107.19 237.12,106.80 237.82,106.41 238.52,106.02 239.22,105.63 239.92,105.23 240.62,104.84 241.32,104.44 242.02,104.04 242.71,103.65 243.41,103.25 244.11,102.85 244.81,102.44 245.51,102.04 246.21,101.64 246.91,101.23 247.61,100.83 248.31,100.42 249.01,100.01 249.70,99.60 250.40,99.20 251.10,98.79 251.80,98.38 252.50,97.96 253.20,97.55 253.90,97.14 254.60,96.73 255.30,96.31 255.99,95.90 256.69,95.48 257.39,95.07 258.09,94.65 258.79,94.23 259.49,93.81 260.19,93.40 260.89,92.98 261.59,92.56 262.29,92.14 262.98,91.72 263.68,91.30 264.38,90.88 265.08,90.46 265.78,90.03 266.48,89.61 267.18,89.19 267.88,88.77 268.58,88.34 269.28,87.92 269.97,87.49 270.67,87.07 271.37,86.64 272.07,86.22 272.77,85.79 273.47,85.37 274.17,84.94 274.87,84.52 275.57,84.09 276.26,83.66 276.96,83.24 277.66,82.81 278.36,82.38 279.06,81.96 279.76,81.53 280.46,81.10 281.16,80.67 281.86,80.24 282.56,79.81 283.25,79.39 283.95,78.96 284.65,78.53 285.35,78.10 286.05,77.67 286.75,77.24 287.45,76.81 288.15,76.38 288.85,75.95 289.54,75.52 290.24,75.09 290.94,74.66 291.64,74.23 292.34,73.80 293.04,73.37 293.74,72.94 294.44,72.51 295.14,72.08 295.84,71.65 296.53,71.22 297.23,70.79 297.93,70.35 298.63,69.92 299.33,69.49 300.03,69.06 300.73,68.63 301.43,68.20 302.13,67.77 302.82,67.33 303.52,66.90 304.22,66.47 304.92,66.04 305.62,65.61 306.32,65.18 307.02,64.74 307.72,64.31 308.42,63.88 309.12,63.45 309.81,63.02 310.51,62.58 311.21,62.15 311.91,61.72 312.61,61.29 313.31,60.86 314.01,60.42 314.71,59.99 315.41,59.56 316.11,59.13 316.80,58.69 317.50,58.26 318.20,57.83 318.90,57.40 319.60,56.96 320.30,56.53 321.00,56.10 321.70,55.67 322.40,55.23 323.09,54.80 323.79,54.37 324.49,53.94 325.19,53.50 325.89,53.07 326.59,52.64 327.29,52.21 327.99,51.77 328.69,51.34 329.39,50.91 330.08,50.47 330.78,50.04 331.48,49.61 332.18,49.18 332.88,48.74 333.58,48.31 334.28,47.88 334.98,47.44 335.68,47.01 336.38,46.58 337.07,46.15 337.77,45.71 338.47,45.28 339.17,44.85 339.87,44.41 340.57,43.98 341.27,43.55 341.97,43.12 342.67,42.68 343.36,42.25 344.06,41.82 344.76,41.38 345.46,40.95 346.16,40.52 346.86,40.08 347.56,39.65 348.26,39.22 348.96,38.79 349.66,38.35 350.35,37.92 351.05,37.49 351.75,37.05 352.45,36.62 353.15,36.19 353.85,35.75 354.55,35.32 355.25,34.89 355.95,34.46 356.64,34.02 357.34,33.59 358.04,33.16 358.74,32.72 359.44,32.29 360.14,31.86 360.84,31.42 361.54,30.99 362.24,30.56 362.94,30.12 363.63,29.69 364.33,29.26 365.03,28.83 365.73,28.39 366.43,27.96 367.13,27.53 367.83,27.09 368.53,26.66 369.23,26.23 369.92,25.79 370.62,25.36 371.32,24.93 372.02,24.49 372.72,24.06 373.42,23.63 374.12,23.20 374.82,22.76 375.52,22.33 376.22,21.90 376.91,21.46 377.61,21.03 378.31,20.60 379.01,20.16 379.71,19.73 380.41,19.30 381.11,18.86 381.81,18.43 382.51,18.00 383.21,17.57 383.90,17.13 384.60,16.70 385.30,16.27 386.00,15.83 386.70,15.40 386.70,39.55 386.00,39.98 385.30,40.42 384.60,40.85 383.90,41.28 383.21,41.71 382.51,42.15 381.81,42.58 381.11,43.01 380.41,43.45 379.71,43.88 379.01,44.31 378.31,44.75 377.61,45.18 376.91,45.61 376.22,46.05 375.52,46.48 374.82,46.91 374.12,47.35 373.42,47.78 372.72,48.21 372.02,48.65 371.32,49.08 370.62,49.51 369.92,49.95 369.23,50.38 368.53,50.81 367.83,51.25 367.13,51.68 366.43,52.11 365.73,52.55 365.03,52.98 364.33,53.41 363.63,53.85 362.94,54.28 362.24,54.71 361.54,55.14 360.84,55.58 360.14,56.01 359.44,56.44 358.74,56.88 358.04,57.31 357.34,57.74 356.64,58.18 355.95,58.61 355.25,59.04 354.55,59.48 353.85,59.91 353.15,60.34 352.45,60.78 351.75,61.21 351.05,61.65 350.35,62.08 349.66,62.51 348.96,62.95 348.26,63.38 347.56,63.81 346.86,64.25 346.16,64.68 345.46,65.11 344.76,65.55 344.06,65.98 343.36,66.41 342.67,66.85 341.97,67.28 341.27,67.71 340.57,68.15 339.87,68.58 339.17,69.02 338.47,69.45 337.77,69.88 337.07,70.32 336.38,70.75 335.68,71.18 334.98,71.62 334.28,72.05 333.58,72.49 332.88,72.92 332.18,73.35 331.48,73.79 330.78,74.22 330.08,74.66 329.39,75.09 328.69,75.52 327.99,75.96 327.29,76.39 326.59,76.83 325.89,77.26 325.19,77.70 324.49,78.13 323.79,78.56 323.09,79.00 322.40,79.43 321.70,79.87 321.00,80.30 320.30,80.74 319.60,81.17 318.90,81.61 318.20,82.04 317.50,82.48 316.80,82.91 316.11,83.35 315.41,83.78 314.71,84.22 314.01,84.65 313.31,85.09 312.61,85.52 311.91,85.96 311.21,86.40 310.51,86.83 309.81,87.27 309.12,87.70 308.42,88.14 307.72,88.58 307.02,89.01 306.32,89.45 305.62,89.89 304.92,90.32 304.22,90.76 303.52,91.20 302.82,91.63 302.13,92.07 301.43,92.51 300.73,92.95 300.03,93.38 299.33,93.82 298.63,94.26 297.93,94.70 297.23,95.14 296.53,95.58 295.84,96.02 295.14,96.45 294.44,96.89 293.74,97.33 293.04,97.77 292.34,98.21 291.64,98.66 290.94,99.10 290.24,99.54 289.54,99.98 288.85,100.42 288.15,100.86 287.45,101.31 286.75,101.75 286.05,102.19 285.35,102.63 284.65,103.08 283.95,103.52 283.25,103.97 282.56,104.41 281.86,104.86 281.16,105.30 280.46,105.75 279.76,106.20 279.06,106.65 278.36,107.09 277.66,107.54 276.96,107.99 276.26,108.44 275.57,108.89 274.87,109.34 274.17,109.80 273.47,110.25 272.77,110.70 272.07,111.16 271.37,111.61 270.67,112.07 269.97,112.52 269.28,112.98 268.58,113.44 267.88,113.90 267.18,114.36 266.48,114.82 265.78,115.28 265.08,115.75 264.38,116.21 263.68,116.68 262.98,117.14 262.29,117.61 261.59,118.08 260.89,118.55 260.19,119.02 259.49,119.50 258.79,119.97 258.09,120.45 257.39,120.93 256.69,121.41 255.99,121.89 255.30,122.37 254.60,122.86 253.90,123.35 253.20,123.83 252.50,124.33 251.80,124.82 251.10,125.32 250.40,125.81 249.70,126.32 249.01,126.82 248.31,127.33 247.61,127.83 246.91,128.35 246.21,128.86 245.51,129.38 244.81,129.90 244.11,130.42 243.41,130.95 242.71,131.48 242.02,132.02 241.32,132.56 240.62,133.10 239.92,133.65 239.22,134.20 238.52,134.76 237.82,135.32 237.12,135.89 236.42,136.46 235.73,137.04 235.03,137.62 234.33,138.21 233.63,138.80 232.93,139.41 232.23,140.01 231.53,140.63 230.83,141.25 230.13,141.88 229.43,142.52 228.74,143.17 228.04,143.83 227.34,144.49 226.64,145.17 225.94,145.85 225.24,146.55 224.54,147.26 223.84,147.98 223.14,148.71 222.44,149.46 221.75,150.22 221.05,151.00 220.35,151.79 219.65,152.60 218.95,153.42 218.25,154.27 217.55,155.13 216.85,156.02 216.15,156.93 215.46,157.86 214.76,158.82 214.06,159.81 213.36,160.83 212.66,161.88 211.96,162.97 211.26,164.09 210.56,165.26 209.86,166.47 209.16,167.74 208.47,169.05 207.77,170.44 207.07,171.89 206.37,173.41 205.67,175.03 204.97,176.74 204.27,178.57 203.57,180.53 202.87,182.64 202.18,184.94 201.48,187.46 200.78,190.25 200.08,193.39 199.38,196.99 198.68,201.20 197.98,206.30 197.28,212.78 196.58,221.76 195.88,226.30 195.19,226.30 194.49,226.30 193.79,226.30 193.09,226.30 192.39,226.30 191.69,226.30 190.99,226.30 190.29,226.30 189.59,226.30 188.89,226.30 188.20,226.30 187.50,226.30 186.80,226.30 186.10,226.30 185.40,226.30 184.70,226.30 184.00,222.73 183.30,214.66 182.60,208.81 181.91,204.24 181.21,200.50 180.51,197.34 179.81,194.61 179.11,192.22 178.41,190.09 177.71,188.17 177.01,186.43 176.31,184.85 175.61,183.39 174.92,182.04 174.22,180.79 173.52,179.62 172.82,178.53 172.12,177.51 171.42,176.54 170.72,175.64 170.02,174.78 169.32,173.97 168.62,173.19 167.93,172.46 167.23,171.76 166.53,171.10 165.83,170.46 165.13,169.85 164.43,169.27 163.73,168.71 163.03,168.18 162.33,167.67 161.64,167.17 160.94,166.70 160.24,166.24 159.54,165.80 158.84,165.38 158.14,164.97 157.44,164.57 156.74,164.19 156.04,163.82 155.34,163.47 154.65,163.12 153.95,162.79 153.25,162.47 152.55,162.16 151.85,161.85 151.15,161.56 150.45,161.28 149.75,161.00 149.05,160.73 148.36,160.47 147.66,160.22 146.96,159.97 146.26,159.74 145.56,159.50 144.86,159.28 144.16,159.06 143.46,158.85 142.76,158.64 142.06,158.44 141.37,158.24 140.67,158.05 139.97,157.87 139.27,157.68 138.57,157.51 137.87,157.34 137.17,157.17 136.47,157.01 135.77,156.85 135.07,156.69 134.38,156.54 133.68,156.39 132.98,156.25 132.28,156.11 131.58,155.97 130.88,155.84 130.18,155.71 129.48,155.58 128.78,155.46 128.09,155.34 127.39,155.22 126.69,155.10 125.99,154.99 125.29,154.88 124.59,154.77 123.89,154.66 123.19,154.56 122.49,154.46 121.79,154.36 121.10,154.27 120.40,154.17 119.70,154.08 119.00,153.99 118.30,153.90 117.60,153.82 116.90,153.73 116.20,153.65 115.50,153.57 114.81,153.49 114.11,153.42 113.41,153.34 112.71,153.27 112.01,153.20 111.31,153.13 110.61,153.06 109.91,152.99 109.21,152.93 108.51,152.86 107.82,152.80 107.12,152.74 106.42,152.68 105.72,152.62 105.02,152.56 104.32,152.50 103.62,152.45 102.92,152.39 102.22,152.34 101.53,152.29 100.83,152.24 100.13,152.19 99.43,152.14 98.73,152.09 98.03,152.04 97.33,152.00 96.63,151.95 95.93,151.91 95.23,151.87 94.54,151.82 93.84,151.78 93.14,151.74 92.44,151.70 91.74,151.66 91.04,151.63 90.34,151.59 89.64,151.55 88.94,151.52 88.24,151.48 87.55,151.45 86.85,151.41 86.15,151.38 85.45,151.35 84.75,151.32 84.05,151.29 83.35,151.26 82.65,151.23 81.95,151.20 81.26,151.17 80.56,151.14 79.86,151.11 79.16,151.09 78.46,151.06 77.76,151.04 77.06,151.01 76.36,150.99 75.66,150.96 74.96,150.94 74.27,150.91 73.57,150.89 72.87,150.87 72.17,150.85 71.47,150.83 70.77,150.80 70.07,150.78 69.37,150.76 68.67,150.74 67.98,150.72 67.28,150.70 66.58,150.69 65.88,150.67 65.18,150.65 64.48,150.63 63.78,150.61 63.08,150.60 62.38,150.58 61.68,150.57 60.99,150.55 60.29,150.53 59.59,150.52 58.89,150.50 58.19,150.49 57.49,150.47 56.79,150.46 56.09,150.45 55.39,150.43 54.69,150.42 54.00,150.41 53.30,150.39 52.60,150.38 51.90,150.37 51.20,150.36" fill="#0000bb"/>
</g>
<g clip-path="url(#cpL)" fill="none" stroke="#000">
<path d="M51.20,82.39 L51.90,82.39 L52.60,82.39 L53.30,82.39 L54.00,82.39 L54.69,82.39 L55.39,82.39 L56.09,82.39 L56.79,82.39 L57.49,82.39 L58.19,82.39 L58.89,82.39 L59.59,82.39 L60.29,82.39 L60.99,82.39 L61.68,82.39 L62.38,82.39 L63.08,82.39 L63.78,82.39 L64.48,82.39 L65.18,82.39 L65.88,82.39 L66.58,82.39 L67.28,82.39 L67.98,82.39 L68.67,82.39 L69.37,82.39 L70.07,82.39 L70.77,82.39 L71.47,82.39 L72.17,82.39 L72.87,82.39 L73.57,82.39 L74.27,82.39 L74.96,82.39 L75.66,82.39 L76.36,82.39 L77.06,82.39 L77.76,82.39 L78.46,82.39 L79.16,82.39 L79.86,82.39 L80.56,82.39 L81.26,82.39 L81.95,82.39 L82.65,82.39 L83.35,82.39 L84.05,82.39 L84.75,82.39 L85.45,82.39 L86.15,82.39 L86.85,82.39 L87.55,82.39 L88.24,82.39 L88.94,82.39 L89.64,82.39 L90.34,82.39 L91.04,82.39 L91.74,82.39 L92.44,82.39 L93.14,82.39 L93.84,82.39 L94.54,82.39 L95.23,82.39 L95.93,82.39 L96.63,82.39 L97.33,82.39 L98.03,82.39 L98.73,82.39 L99.43,82.39 L100.13,82.39 L100.83,82.39 L101.53,82.39 L102.22,82.39 L102.92,82.39 L103.62,82.39 L104.32,82.39 L105.02,82.39 L105.72,82.39 L106.42,82.39 L107.12,82.39 L107.82,82.39 L108.51,82.39 L109.21,82.39 L109.91,82.39 L110.61,82.39 L111.31,82.39 L112.01,82.39 L112.71,82.39 L113.41,82.39 L114.11,82.39 L114.81,82.39 L115.50,82.39 L116.20,82.39 L116.90,82.39 L117.60,82.39 L118.30,82.39 L119.00,82.39 L119.70,82.39 L120.40,82.39 L121.10,82.39 L121.79,82.39 L122.49,82.39 L123.19,82.39 L123.89,82.39 L124.59,82.39 L125.29,82.39 L125.99,82.39 L126.69,82.39 L127.39,82.39 L128.09,82.39 L128.78,82.39 L129.48,82.38 L130.18,82.38 L130.88,82.38 L131.58,82.38 L132.28,82.38 L132.98,82.38 L133.68,82.38 L134.38,82.38 L135.07,82.38 L135.77,82.38 L136.47,82.38 L137.17,82.38 L137.87,82.38 L138.57,82.38 L139.27,82.38 L139.97,82.38 L140.67,82.38 L141.37,82.38 L142.06,82.38 L142.76,82.38 L143.46,82.38 L144.16,82.38 L144.86,82.38 L145.56,82.38 L146.26,82.38 L146.96,82.38 L147.66,82.38 L148.36,82.38 L149.05,82.38 L149.75,82.38 L150.45,82.38 L151.15,82.38 L151.85,82.38 L152.55,82.38 L153.25,82.38 L153.95,82.38 L154.65,82.38 L155.34,82.38 L156.04,82.37 L156.74,82.37 L157.44,82.37 L158.14,82.37 L158.84,82.37 L159.54,82.37 L160.24,82.37 L160.94,82.37 L161.64,82.37 L162.33,82.37 L163.03,82.37 L163.73,82.37 L164.43,82.37 L165.13,82.37 L165.83,82.37 L166.53,82.36 L167.23,82.36 L167.93,82.36 L168.62,82.36 L169.32,82.36 L170.02,82.36 L170.72,82.36 L171.42,82.36 L172.12,82.36 L172.82,82.35 L173.52,82.35 L174.22,82.35 L174.92,82.35 L175.61,82.35 L176.31,82.35 L177.01,82.35 L177.71,82.34 L178.41,82.34 L179.11,82.34 L179.81,82.34 L180.51,82.34 L181.21,82.33 L181.91,82.33 L182.60,82.33 L183.30,82.33 L184.00,82.33 L184.70,82.32 L185.40,82.32 L186.10,82.32 L186.80,82.32 L187.50,82.31 L188.20,82.31 L188.89,82.31 L189.59,82.30 L190.29,82.30 L190.99,82.30 L191.69,82.29 L192.39,82.29 L193.09,82.29 L193.79,82.28 L194.49,82.28 L195.19,82.27 L195.88,82.27 L196.58,82.26 L197.28,82.26 L197.98,82.25 L198.68,82.25 L199.38,82.24 L200.08,82.24 L200.78,82.23 L201.48,82.23 L202.18,82.22 L202.87,82.21 L203.57,82.21 L204.27,82.20 L204.97,82.19 L205.67,82.18 L206.37,82.18 L207.07,82.17 L207.77,82.16 L208.47,82.15 L209.16,82.14 L209.86,82.13 L210.56,82.12 L211.26,82.11 L211.96,82.10 L212.66,82.09 L213.36,82.08 L214.06,82.07 L214.76,82.05 L215.46,82.04 L216.15,82.03 L216.85,82.01 L217.55,82.00 L218.25,81.98 L218.95,81.97 L219.65,81.95 L220.35,81.94 L221.05,81.92 L221.75,81.90 L222.44,81.88 L223.14,81.86 L223.84,81.84 L224.54,81.82 L225.24,81.80 L225.94,81.78 L226.64,81.76 L227.34,81.73 L228.04,81.71 L228.74,81.68 L229.43,81.65 L230.13,81.63 L230.83,81.60 L231.53,81.57 L232.23,81.54 L232.93,81.50 L233.63,81.47 L234.33,81.44 L235.03,81.40 L235.73,81.36 L236.42,81.33 L237.12,81.29 L237.82,81.24 L238.52,81.20 L239.22,81.16 L239.92,81.11 L240.62,81.07 L241.32,81.02 L242.02,80.97 L242.71,80.91 L243.41,80.86 L244.11,80.81 L244.81,80.75 L245.51,80.69 L246.21,80.63 L246.91,80.56 L247.61,80.50 L248.31,80.43 L249.01,80.36 L249.70,80.29 L250.40,80.21 L251.10,80.13 L251.80,80.05 L252.50,79.97 L253.20,79.89 L253.90,79.80 L254.60,79.71 L255.30,79.62 L255.99,79.52 L256.69,79.42 L257.39,79.32 L258.09,79.22 L258.79,79.11 L259.49,79.00 L260.19,78.88 L260.89,78.77 L261.59,78.65 L262.29,78.52 L262.98,78.40 L263.68,78.27 L264.38,78.13 L265.08,77.99 L265.78,77.85 L266.48,77.71 L267.18,77.56 L267.88,77.40 L268.58,77.25 L269.28,77.09 L269.97,76.92 L270.67,76.76 L271.37,76.58 L272.07,76.41 L272.77,76.23 L273.47,76.04 L274.17,75.85 L274.87,75.66 L275.57,75.47 L276.26,75.26 L276.96,75.06 L277.66,74.85 L278.36,74.64 L279.06,74.42 L279.76,74.20 L280.46,73.97 L281.16,73.74 L281.86,73.51 L282.56,73.27 L283.25,73.03 L283.95,72.78 L284.65,72.53 L285.35,72.28 L286.05,72.02 L286.75,71.76 L287.45,71.49 L288.15,71.22 L288.85,70.95 L289.54,70.67 L290.24,70.39 L290.94,70.10 L291.64,69.81 L292.34,69.52 L293.04,69.23 L293.74,68.93 L294.44,68.62 L295.14,68.32 L295.84,68.00 L296.53,67.69 L297.23,67.37 L297.93,67.05 L298.63,66.73 L299.33,66.40 L300.03,66.07 L300.73,65.74 L301.43,65.41 L302.13,65.07 L302.82,64.73 L303.52,64.38 L304.22,64.04 L304.92,63.69 L305.62,63.34 L306.32,62.98 L307.02,62.62 L307.72,62.27 L308.42,61.90 L309.12,61.54 L309.81,61.17 L310.51,60.81 L311.21,60.44 L311.91,60.06 L312.61,59.69 L313.31,59.31 L314.01,58.94 L314.71,58.56 L315.41,58.17 L316.11,57.79 L316.80,57.41 L317.50,57.02 L318.20,56.63 L318.90,56.24 L319.60,55.85 L320.30,55.46 L321.00,55.06 L321.70,54.67 L322.40,54.27 L323.09,53.87 L323.79,53.47 L324.49,53.07 L325.19,52.67 L325.89,52.27 L326.59,51.87 L327.29,51.46 L327.99,51.06 L328.69,50.65 L329.39,50.24 L330.08,49.83 L330.78,49.42 L331.48,49.01 L332.18,48.60 L332.88,48.19 L333.58,47.78 L334.28,47.37 L334.98,46.95 L335.68,46.54 L336.38,46.12 L337.07,45.71 L337.77,45.29 L338.47,44.87 L339.17,44.45 L339.87,44.04 L340.57,43.62 L341.27,43.20 L341.97,42.78 L342.67,42.36 L343.36,41.94 L344.06,41.51 L344.76,41.09 L345.46,40.67 L346.16,40.25 L346.86,39.83 L347.56,39.40 L348.26,38.98 L348.96,38.55 L349.66,38.13 L350.35,37.71 L351.05,37.28 L351.75,36.85 L352.45,36.43 L353.15,36.00 L353.85,35.58 L354.55,35.15 L355.25,34.72 L355.95,34.30 L356.64,33.87 L357.34,33.44 L358.04,33.02 L358.74,32.59 L359.44,32.16 L360.14,31.73 L360.84,31.30 L361.54,30.87 L362.24,30.45 L362.94,30.02 L363.63,29.59 L364.33,29.16 L365.03,28.73 L365.73,28.30 L366.43,27.87 L367.13,27.44 L367.83,27.01 L368.53,26.58 L369.23,26.15 L369.92,25.72 L370.62,25.29 L371.32,24.86 L372.02,24.43 L372.72,24.00 L373.42,23.57 L374.12,23.14 L374.82,22.71 L375.52,22.27 L376.22,21.84 L376.91,21.41 L377.61,20.98 L378.31,20.55 L379.01,20.12 L379.71,19.69 L380.41,19.26 L381.11,18.82 L381.81,18.39 L382.51,17.96 L383.21,17.53 L383.90,17.10 L384.60,16.67 L385.30,16.23 L386.00,15.80 L386.70,15.37" stroke-width="0.35" stroke="#444"/>
<path d="M51.20,110.05 L51.90,110.05 L52.60,110.05 L53.30,110.05 L54.00,110.05 L54.69,110.05 L55.39,110.05 L56.09,110.05 L56.79,110.05 L57.49,110.05 L58.19,110.05 L58.89,110.05 L59.59,110.05 L60.29,110.05 L60.99,110.05 L61.68,110.05 L62.38,110.05 L63.08,110.05 L63.78,110.05 L64.48,110.05 L65.18,110.05 L65.88,110.05 L66.58,110.05 L67.28,110.05 L67.98,110.05 L68.67,110.05 L69.37,110.05 L70.07,110.05 L70.77,110.05 L71.47,110.05 L72.17,110.05 L72.87,110.05 L73.57,110.05 L74.27,110.05 L74.96,110.05 L75.66,110.05 L76.36,110.05 L77.06,110.05 L77.76,110.05 L78.46,110.05 L79.16,110.05 L79.86,110.05 L80.56,110.05 L81.26,110.05 L81.95,110.05 L82.65,110.05 L83.35,110.05 L84.05,110.05 L84.75,110.05 L85.45,110.05 L86.15,110.05 L86.85,110.05 L87.55,110.05 L88.24,110.05 L88.94,110.05 L89.64,110.05 L90.34,110.05 L91.04,110.05 L91.74,110.05 L92.44,110.05 L93.14,110.05 L93.84,110.05 L94.54,110.05 L95.23,110.05 L95.93,110.05 L96.63,110.05 L97.33,110.05 L98.03,110.05 L98.73,110.05 L99.43,110.05 L100.13,110.05 L100.83,110.05 L101.53,110.05 L102.22,110.05 L102.92,110.05 L103.62,110.05 L104.32,110.05 L105.02,110.05 L105.72,110.05 L106.42,110.05 L107.12,110.05 L107.82,110.05 L108.51,110.05 L109.21,110.05 L109.91,110.05 L110.61,110.05 L111.31,110.05 L112.01,110.05 L112.71,110.05 L113.41,110.05 L114.11,110.05 L114.81,110.05 L115.50,110.05 L116.20,110.05 L116.90,110.05 L117.60,110.05 L118.30,110.05 L119.00,110.05 L119.70,110.05 L120.40,110.05 L121.10,110.05 L121.79,110.05 L122.49,110.05 L123.19,110.05 L123.89,110.05 L124.59,110.05 L125.29,110.05 L125.99,110.05 L126.69,110.05 L127.39,110.05 L128.09,110.05 L128.78,110.05 L129.48,110.05 L130.18,110.05 L130.88,110.05 L131.58,110.05 L132.28,110.05 L132.98,110.05 L133.68,110.05 L134.38,110.05 L135.07,110.05 L135.77,110.05 L136.47,110.05 L137.17,110.05 L137.87,110.05 L138.57,110.05 L139.27,110.05 L139.97,110.05 L140.67,110.05 L141.37,110.05 L142.06,110.05 L142.76,110.05 L143.46,110.05 L144.16,110.05 L144.86,110.05 L145.56,110.05 L146.26,110.05 L146.96,110.05 L147.66,110.05 L148.36,110.05 L149.05,110.05 L149.75,110.05 L150.45,110.05 L151.15,110.05 L151.85,110.05 L152.55,110.05 L153.25,110.05 L153.95,110.05 L154.65,110.05 L155.34,110.05 L156.04,110.05 L156.74,110.05 L157.44,110.05 L158.14,110.05 L158.84,110.05 L159.54,110.04 L160.24,110.04 L160.94,110.04 L161.64,110.04 L162.33,110.04 L163.03,110.04 L163.73,110.04 L164.43,110.04 L165.13,110.04 L165.83,110.04 L166.53,110.04 L167.23,110.04 L167.93,110.04 L168.62,110.04 L169.32,110.04 L170.02,110.04 L170.72,110.04 L171.42,110.04 L172.12,110.03 L172.82,110.03 L173.52,110.03 L174.22,110.03 L174.92,110.03 L175.61,110.03 L176.31,110.03 L177.01,110.03 L177.71,110.03 L178.41,110.02 L179.11,110.02 L179.81,110.02 L180.51,110.02 L181.21,110.02 L181.91,110.02 L182.60,110.02 L183.30,110.01 L184.00,110.01 L184.70,110.01 L185.40,110.01 L186.10,110.01 L186.80,110.00 L187.50,110.00 L188.20,110.00 L188.89,110.00 L189.59,109.99 L190.29,109.99 L190.99,109.99 L191.69,109.99 L192.39,109.98 L193.09,109.98 L193.79,109.98 L194.49,109.97 L195.19,109.97 L195.88,109.96 L196.58,109.96 L197.28,109.96 L197.98,109.95 L198.68,109.95 L199.38,109.94 L200.08,109.94 L200.78,109.93 L201.48,109.93 L202.18,109.92 L202.87,109.91 L203.57,109.91 L204.27,109.90 L204.97,109.90 L205.67,109.89 L206.37,109.88 L207.07,109.87 L207.77,109.87 L208.47,109.86 L209.16,109.85 L209.86,109.84 L210.56,109.83 L211.26,109.82 L211.96,109.81 L212.66,109.80 L213.36,109.79 L214.06,109.78 L214.76,109.77 L215.46,109.75 L216.15,109.74 L216.85,109.73 L217.55,109.71 L218.25,109.70 L218.95,109.68 L219.65,109.67 L220.35,109.65 L221.05,109.64 L221.75,109.62 L222.44,109.60 L223.14,109.58 L223.84,109.56 L224.54,109.54 L225.24,109.52 L225.94,109.50 L226.64,109.48 L227.34,109.45 L228.04,109.43 L228.74,109.40 L229.43,109.37 L230.13,109.35 L230.83,109.32 L231.53,109.29 L232.23,109.26 L232.93,109.23 L233.63,109.19 L234.33,109.16 L235.03,109.12 L235.73,109.09 L236.42,109.05 L237.12,109.01 L237.82,108.97 L238.52,108.92 L239.22,108.88 L239.92,108.83 L240.62,108.79 L241.32,108.74 L242.02,108.69 L242.71,108.63 L243.41,108.58 L244.11,108.52 L244.81,108.46 L245.51,108.40 L246.21,108.34 L246.91,108.28 L247.61,108.21 L248.31,108.14 L249.01,108.07 L249.70,108.00 L250.40,107.92 L251.10,107.84 L251.80,107.76 L252.50,107.68 L253.20,107.59 L253.90,107.50 L254.60,107.41 L255.30,107.31 L255.99,107.22 L256.69,107.11 L257.39,107.01 L258.09,106.90 L258.79,106.79 L259.49,106.68 L260.19,106.56 L260.89,106.44 L261.59,106.32 L262.29,106.19 L262.98,106.06 L263.68,105.93 L264.38,105.79 L265.08,105.65 L265.78,105.51 L266.48,105.36 L267.18,105.20 L267.88,105.05 L268.58,104.89 L269.28,104.72 L269.97,104.56 L270.67,104.38 L271.37,104.21 L272.07,104.03 L272.77,103.84 L273.47,103.65 L274.17,103.46 L274.87,103.26 L275.57,103.06 L276.26,102.86 L276.96,102.65 L277.66,102.44 L278.36,102.22 L279.06,102.00 L279.76,101.77 L280.46,101.54 L281.16,101.31 L281.86,101.07 L282.56,100.82 L283.25,100.58 L283.95,100.33 L284.65,100.07 L285.35,99.81 L286.05,99.55 L286.75,99.28 L287.45,99.01 L288.15,98.74 L288.85,98.46 L289.54,98.18 L290.24,97.89 L290.94,97.60 L291.64,97.31 L292.34,97.01 L293.04,96.71 L293.74,96.41 L294.44,96.10 L295.14,95.79 L295.84,95.47 L296.53,95.15 L297.23,94.83 L297.93,94.47 L298.63,94.04 L299.33,93.60 L300.03,93.16 L300.73,92.72 L301.43,92.28 L302.13,91.85 L302.82,91.41 L303.52,90.97 L304.22,90.53 L304.92,90.10 L305.62,89.66 L306.32,89.22 L307.02,88.79 L307.72,88.35 L308.42,87.91 L309.12,87.48 L309.81,87.04 L310.51,86.61 L311.21,86.17 L311.91,85.74 L312.61,85.30 L313.31,84.86 L314.01,84.43 L314.71,83.99 L315.41,83.56 L316.11,83.12 L316.80,82.69 L317.50,82.25 L318.20,81.82 L318.90,81.38 L319.60,80.95 L320.30,80.51 L321.00,80.08 L321.70,79.64 L322.40,79.21 L323.09,78.77 L323.79,78.34 L324.49,77.91 L325.19,77.47 L325.89,77.04 L326.59,76.60 L327.29,76.17 L327.99,75.73 L328.69,75.30 L329.39,74.87 L330.08,74.43 L330.78,74.00 L331.48,73.56 L332.18,73.13 L332.88,72.70 L333.58,72.26 L334.28,71.83 L334.98,71.39 L335.68,70.96 L336.38,70.53 L337.07,70.09 L337.77,69.66 L338.47,69.22 L339.17,68.79 L339.87,68.36 L340.57,67.92 L341.27,67.49 L341.97,67.06 L342.67,66.62 L343.36,66.19 L344.06,65.76 L344.76,65.32 L345.46,64.89 L346.16,64.45 L346.86,64.02 L347.56,63.59 L348.26,63.15 L348.96,62.72 L349.66,62.29 L350.35,61.85 L351.05,61.42 L351.75,60.99 L352.45,60.55 L353.15,60.12 L353.85,59.69 L354.55,59.25 L355.25,58.82 L355.95,58.39 L356.64,57.95 L357.34,57.52 L358.04,57.09 L358.74,56.65 L359.44,56.22 L360.14,55.79 L360.84,55.35 L361.54,54.92 L362.24,54.49 L362.94,54.05 L363.63,53.62 L364.33,53.19 L365.03,52.75 L365.73,52.32 L366.43,51.89 L367.13,51.45 L367.83,51.02 L368.53,50.59 L369.23,50.15 L369.92,49.72 L370.62,49.29 L371.32,48.85 L372.02,48.42 L372.72,47.99 L373.42,47.56 L374.12,47.12 L374.82,46.69 L375.52,46.26 L376.22,45.82 L376.91,45.39 L377.61,44.96 L378.31,44.52 L379.01,44.09 L379.71,43.66 L380.41,43.22 L381.11,42.79 L381.81,42.36 L382.51,41.92 L383.21,41.49 L383.90,41.06 L384.60,40.62 L385.30,40.19 L386.00,39.76 L386.70,39.32" stroke-width="0.35" stroke="#444"/>
<path d="M51.20,82.39 L51.90,82.39 L52.60,82.39 L53.30,82.39 L54.00,82.39 L54.69,82.39 L55.39,82.39 L56.09,82.39 L56.79,82.39 L57.49,82.39 L58.19,82.39 L58.89,82.39 L59.59,82.39 L60.29,82.39 L60.99,82.39 L61.68,82.39 L62.38,82.39 L63.08,82.39 L63.78,82.39 L64.48,82.39 L65.18,82.39 L65.88,82.39 L66.58,82.39 L67.28,82.39 L67.98,82.39 L68.67,82.39 L69.37,82.39 L70.07,82.39 L70.77,82.39 L71.47,82.39 L72.17,82.39 L72.87,82.39 L73.57,82.39 L74.27,82.39 L74.96,82.39 L75.66,82.39 L76.36,82.39 L77.06,82.39 L77.76,82.39 L78.46,82.39 L79.16,82.39 L79.86,82.39 L80.56,82.39 L81.26,82.39 L81.95,82.39 L82.65,82.39 L83.35,82.39 L84.05,82.39 L84.75,82.39 L85.45,82.39 L86.15,82.39 L86.85,82.39 L87.55,82.39 L88.24,82.39 L88.94,82.39 L89.64,82.39 L90.34,82.39 L91.04,82.39 L91.74,82.39 L92.44,82.39 L93.14,82.39 L93.84,82.39 L94.54,82.39 L95.23,82.39 L95.93,82.39 L96.63,82.39 L97.33,82.39 L98.03,82.39 L98.73,82.39 L99.43,82.39 L100.13,82.39 L100.83,82.39 L101.53,82.39 L102.22,82.39 L102.92,82.39 L103.62,82.39 L104.32,82.39 L105.02,82.39 L105.72,82.39 L106.42,82.39 L107.12,82.39 L107.82,82.39 L108.51,82.39 L109.21,82.39 L109.91,82.39 L110.61,82.39 L111.31,82.39 L112.01,82.39 L112.71,82.39 L113.41,82.39 L114.11,82.39 L114.81,82.39 L115.50,82.39 L116.20,82.39 L116.90,82.39 L117.60,82.39 L118.30,82.39 L119.00,82.39 L119.70,82.39 L120.40,82.39 L121.10,82.39 L121.79,82.39 L122.49,82.39 L123.19,82.39 L123.89,82.39 L124.59,82.39 L125.29,82.39 L125.99,82.39 L126.69,82.39 L127.39,82.39 L128.09,82.39 L128.78,82.39 L129.48,82.38 L130.18,82.38 L130.88,82.38 L131.58,82.38 L132.28,82.38 L132.98,82.38 L133.68,82.38 L134.38,82.38 L135.07,82.38 L135.77,82.38 L136.47,82.38 L137.17,82.38 L137.87,82.38 L138.57,82.38 L139.27,82.38 L139.97,82.38 L140.67,82.38 L141.37,82.38 L142.06,82.38 L142.76,82.38 L143.46,82.38 L144.16,82.38 L144.86,82.38 L145.56,82.38 L146.26,82.38 L146.96,82.38 L147.66,82.38 L148.36,82.38 L149.05,82.38 L149.75,82.38 L150.45,82.38 L151.15,82.38 L151.85,82.38 L152.55,82.38 L153.25,82.38 L153.95,82.38 L154.65,82.38 L155.34,82.38 L156.04,82.37 L156.74,82.37 L157.44,82.37 L158.14,82.37 L158.84,82.37 L159.54,82.37 L160.24,82.37 L160.94,82.37 L161.64,82.37 L162.33,82.37 L163.03,82.37 L163.73,82.37 L164.43,82.37 L165.13,82.37 L165.83,82.37 L166.53,82.36 L167.23,82.36 L167.93,82.36 L168.62,82.36 L169.32,82.36 L170.02,82.36 L170.72,82.36 L171.42,82.36 L172.12,82.36 L172.82,82.35 L173.52,82.35 L174.22,82.35 L174.92,82.35 L175.61,82.35 L176.31,82.35 L177.01,82.35 L177.71,82.34 L178.41,82.34 L179.11,82.34 L179.81,82.34 L180.51,82.34 L181.21,82.33 L181.91,82.33 L182.60,82.33 L183.30,82.33 L184.00,82.33 L184.70,82.32 L185.40,82.32 L186.10,82.32 L186.80,82.32 L187.50,82.31 L188.20,82.31 L188.89,82.31 L189.59,82.30 L190.29,82.30 L190.99,82.30 L191.69,82.29 L192.39,82.29 L193.09,82.29 L193.79,82.28 L194.49,82.28 L195.19,82.27 L195.88,82.27 L196.58,82.26 L197.28,82.26 L197.98,82.25 L198.68,82.25 L199.38,82.24 L200.08,82.24 L200.78,82.23 L201.48,82.23 L202.18,82.22 L202.87,82.21 L203.57,82.21 L204.27,82.20 L204.97,82.19 L205.67,82.18 L206.37,82.18 L207.07,82.17 L207.77,82.16 L208.47,82.15 L209.16,82.14 L209.86,82.13 L210.56,82.12 L211.26,82.11 L211.96,82.10 L212.66,82.09 L213.36,82.08 L214.06,82.07 L214.76,82.05 L215.46,82.04 L216.15,82.03 L216.85,82.01 L217.55,82.00 L218.25,81.98 L218.95,81.97 L219.65,81.95 L220.35,81.94 L221.05,81.92 L221.75,81.90 L222.44,81.88 L223.14,81.86 L223.84,81.84 L224.54,81.82 L225.24,81.80 L225.94,81.78 L226.64,81.76 L227.34,81.73 L228.04,81.71 L228.74,81.68 L229.43,81.65 L230.13,81.63 L230.83,81.60 L231.53,81.57 L232.23,81.54 L232.93,81.50 L233.63,81.47 L234.33,81.44 L235.03,81.40 L235.73,81.36 L236.42,81.33 L237.12,81.29 L237.82,81.24 L238.52,81.20 L239.22,81.16 L239.92,81.11 L240.62,81.07 L241.32,81.02 L242.02,80.97 L242.71,80.91 L243.41,80.86 L244.11,80.81 L244.81,80.75 L245.51,80.69 L246.21,80.63 L246.91,80.56 L247.61,80.50 L248.31,80.43 L249.01,80.36 L249.70,80.29 L250.40,80.21 L251.10,80.13 L251.80,80.05 L252.50,79.97 L253.20,79.89 L253.90,79.80 L254.60,79.71 L255.30,79.62 L255.99,79.52 L256.69,79.42 L257.39,79.32 L258.09,79.22 L258.79,79.11 L259.49,79.00 L260.19,78.88 L260.89,78.77 L261.59,78.65 L262.29,78.52 L262.98,78.40 L263.68,78.27 L264.38,78.13 L265.08,77.99 L265.78,77.85 L266.48,77.71 L267.18,77.56 L267.88,77.40 L268.58,77.25 L269.28,77.09 L269.97,76.92 L270.67,76.76 L271.37,76.58 L272.07,76.41 L272.77,76.23 L273.47,76.04 L274.17,75.85 L274.87,75.66 L275.57,75.47 L276.26,75.26 L276.96,75.06 L277.66,74.85 L278.36,74.64 L279.06,74.42 L279.76,74.20 L280.46,73.97 L281.16,73.74 L281.86,73.51 L282.56,73.27 L283.25,73.03 L283.95,72.78 L284.65,72.53 L285.35,72.28 L286.05,72.02 L286.75,71.76 L287.45,71.49 L288.15,71.22 L288.85,70.95 L289.54,70.67 L290.24,70.39 L290.94,70.10 L291.64,69.81 L292.34,69.52 L293.04,69.23 L293.74,68.93 L294.44,68.62 L295.14,68.32 L295.84,68.00 L296.53,67.69 L297.23,67.37 L297.93,67.05 L298.63,66.73 L299.33,66.40 L300.03,66.07 L300.73,65.74 L301.43,65.41 L302.13,65.07 L302.82,64.73 L303.52,64.38 L304.22,64.04 L304.92,63.69 L305.62,63.34 L306.32,62.98 L307.02,62.62 L307.72,62.27 L308.42,61.90 L309.12,61.54 L309.81,61.17 L310.51,60.81 L311.21,60.44 L311.91,60.06 L312.61,59.69 L313.31,59.31 L314.01,58.94 L314.71,58.56 L315.41,58.17 L316.11,57.79 L316.80,57.41 L317.50,57.02 L318.20,56.63 L318.90,56.24 L319.60,55.85 L320.30,55.46 L321.00,55.06 L321.70,54.67 L322.40,54.27 L323.09,53.87 L323.79,53.47 L324.49,53.07 L325.19,52.67 L325.89,52.27 L326.59,51.87 L327.29,51.46 L327.99,51.06 L328.69,50.65 L329.39,50.24 L330.08,49.83 L330.78,49.42 L331.48,49.01 L332.18,48.60 L332.88,48.19 L333.58,47.78 L334.28,47.37 L334.98,46.95 L335.68,46.54 L336.38,46.12 L337.07,45.71 L337.77,45.29 L338.47,44.87 L339.17,44.45 L339.87,44.04 L340.57,43.62 L341.27,43.20 L341.97,42.78 L342.67,42.36 L343.36,41.94 L344.06,41.51 L344.76,41.09 L345.46,40.67 L346.16,40.25 L346.86,39.83 L347.56,39.40 L348.26,38.98 L348.96,38.55 L349.66,38.13 L350.35,37.71 L351.05,37.28 L351.75,36.85 L352.45,36.43 L353.15,36.00 L353.85,35.58 L354.55,35.15 L355.25,34.72 L355.95,34.30 L356.64,33.87 L357.34,33.44 L358.04,33.02 L358.74,32.59 L359.44,32.16 L360.14,31.73 L360.84,31.30 L361.54,30.87 L362.24,30.45 L362.94,30.02 L363.63,29.59 L364.33,29.16 L365.03,28.73 L365.73,28.30 L366.43,27.87 L367.13,27.44 L367.83,27.01 L368.53,26.58 L369.23,26.15 L369.92,25.72 L370.62,25.29 L371.32,24.86 L372.02,24.43 L372.72,24.00 L373.42,23.57 L374.12,23.14 L374.82,22.71 L375.52,22.27 L376.22,21.84 L376.91,21.41 L377.61,20.98 L378.31,20.55 L379.01,20.12 L379.71,19.69 L380.41,19.26 L381.11,18.82 L381.81,18.39 L382.51,17.96 L383.21,17.53 L383.90,17.10 L384.60,16.67 L385.30,16.23 L386.00,15.80 L386.70,15.37" stroke-width="0.55" stroke-dasharray="4.4 1.8"/>
<path d="M51.20,110.05 L51.90,110.05 L52.60,110.05 L53.30,110.05 L54.00,110.05 L54.69,110.05 L55.39,110.05 L56.09,110.05 L56.79,110.05 L57.49,110.05 L58.19,110.05 L58.89,110.05 L59.59,110.05 L60.29,110.05 L60.99,110.05 L61.68,110.05 L62.38,110.05 L63.08,110.05 L63.78,110.05 L64.48,110.05 L65.18,110.05 L65.88,110.05 L66.58,110.05 L67.28,110.05 L67.98,110.05 L68.67,110.05 L69.37,110.05 L70.07,110.05 L70.77,110.05 L71.47,110.05 L72.17,110.05 L72.87,110.05 L73.57,110.05 L74.27,110.05 L74.96,110.05 L75.66,110.05 L76.36,110.05 L77.06,110.05 L77.76,110.05 L78.46,110.05 L79.16,110.05 L79.86,110.05 L80.56,110.05 L81.26,110.05 L81.95,110.05 L82.65,110.05 L83.35,110.05 L84.05,110.05 L84.75,110.05 L85.45,110.05 L86.15,110.05 L86.85,110.05 L87.55,110.05 L88.24,110.05 L88.94,110.05 L89.64,110.05 L90.34,110.05 L91.04,110.05 L91.74,110.05 L92.44,110.05 L93.14,110.05 L93.84,110.05 L94.54,110.05 L95.23,110.05 L95.93,110.05 L96.63,110.05 L97.33,110.05 L98.03,110.05 L98.73,110.05 L99.43,110.05 L100.13,110.05 L100.83,110.05 L101.53,110.05 L102.22,110.05 L102.92,110.05 L103.62,110.05 L104.32,110.05 L105.02,110.05 L105.72,110.05 L106.42,110.05 L107.12,110.05 L107.82,110.05 L108.51,110.05 L109.21,110.05 L109.91,110.05 L110.61,110.05 L111.31,110.05 L112.01,110.05 L112.71,110.05 L113.41,110.05 L114.11,110.05 L114.81,110.05 L115.50,110.05 L116.20,110.05 L116.90,110.05 L117.60,110.05 L118.30,110.05 L119.00,110.05 L119.70,110.05 L120.40,110.05 L121.10,110.05 L121.79,110.05 L122.49,110.05 L123.19,110.05 L123.89,110.05 L124.59,110.05 L125.29,110.05 L125.99,110.05 L126.69,110.05 L127.39,110.05 L128.09,110.05 L128.78,110.05 L129.48,110.05 L130.18,110.05 L130.88,110.05 L131.58,110.05 L132.28,110.05 L132.98,110.05 L133.68,110.05 L134.38,110.05 L135.07,110.05 L135.77,110.05 L136.47,110.05 L137.17,110.05 L137.87,110.05 L138.57,110.05 L139.27,110.05 L139.97,110.05 L140.67,110.05 L141.37,110.05 L142.06,110.05 L142.76,110.05 L143.46,110.05 L144.16,110.05 L144.86,110.05 L145.56,110.05 L146.26,110.05 L146.96,110.05 L147.66,110.05 L148.36,110.05 L149.05,110.05 L149.75,110.05 L150.45,110.05 L151.15,110.05 L151.85,110.05 L152.55,110.05 L153.25,110.05 L153.95,110.05 L154.65,110.05 L155.34,110.05 L156.04,110.05 L156.74,110.05 L157.44,110.05 L158.14,110.05 L158.84,110.05 L159.54,110.04 L160.24,110.04 L160.94,110.04 L161.64,110.04 L162.33,110.04 L163.03,110.04 L163.73,110.04 L164.43,110.04 L165.13,110.04 L165.83,110.04 L166.53,110.04 L167.23,110.04 L167.93,110.04 L168.62,110.04 L169.32,110.04 L170.02,110.04 L170.72,110.04 L171.42,110.04 L172.12,110.03 L172.82,110.03 L173.52,110.03 L174.22,110.03 L174.92,110.03 L175.61,110.03 L176.31,110.03 L177.01,110.03 L177.71,110.03 L178.41,110.02 L179.11,110.02 L179.81,110.02 L180.51,110.02 L181.21,110.02 L181.91,110.02 L182.60,110.02 L183.30,110.01 L184.00,110.01 L184.70,110.01 L185.40,110.01 L186.10,110.01 L186.80,110.00 L187.50,110.00 L188.20,110.00 L188.89,110.00 L189.59,109.99 L190.29,109.99 L190.99,109.99 L191.69,109.99 L192.39,109.98 L193.09,109.98 L193.79,109.98 L194.49,109.97 L195.19,109.97 L195.88,109.96 L196.58,109.96 L197.28,109.96 L197.98,109.95 L198.68,109.95 L199.38,109.94 L200.08,109.94 L200.78,109.93 L201.48,109.93 L202.18,109.92 L202.87,109.91 L203.57,109.91 L204.27,109.90 L204.97,109.90 L205.67,109.89 L206.37,109.88 L207.07,109.87 L207.77,109.87 L208.47,109.86 L209.16,109.85 L209.86,109.84 L210.56,109.83 L211.26,109.82 L211.96,109.81 L212.66,109.80 L213.36,109.79 L214.06,109.78 L214.76,109.77 L215.46,109.75 L216.15,109.74 L216.85,109.73 L217.55,109.71 L218.25,109.70 L218.95,109.68 L219.65,109.67 L220.35,109.65 L221.05,109.64 L221.75,109.62 L222.44,109.60 L223.14,109.58 L223.84,109.56 L224.54,109.54 L225.24,109.52 L225.94,109.50 L226.64,109.48 L227.34,109.45 L228.04,109.43 L228.74,109.40 L229.43,109.37 L230.13,109.35 L230.83,109.32 L231.53,109.29 L232.23,109.26 L232.93,109.23 L233.63,109.19 L234.33,109.16 L235.03,109.12 L235.73,109.09 L236.42,109.05 L237.12,109.01 L237.82,108.97 L238.52,108.92 L239.22,108.88 L239.92,108.83 L240.62,108.79 L241.32,108.74 L242.02,108.69 L242.71,108.63 L243.41,108.58 L244.11,108.52 L244.81,108.46 L245.51,108.40 L246.21,108.34 L246.91,108.28 L247.61,108.21 L248.31,108.14 L249.01,108.07 L249.70,108.00 L250.40,107.92 L251.10,107.84 L251.80,107.76 L252.50,107.68 L253.20,107.59 L253.90,107.50 L254.60,107.41 L255.30,107.31 L255.99,107.22 L256.69,107.11 L257.39,107.01 L258.09,106.90 L258.79,106.79 L259.49,106.68 L260.19,106.56 L260.89,106.44 L261.59,106.32 L262.29,106.19 L262.98,106.06 L263.68,105.93 L264.38,105.79 L265.08,105.65 L265.78,105.51 L266.48,105.36 L267.18,105.20 L267.88,105.05 L268.58,104.89 L269.28,104.72 L269.97,104.56 L270.67,104.38 L271.37,104.21 L272.07,104.03 L272.77,103.84 L273.47,103.65 L274.17,103.46 L274.87,103.26 L275.57,103.06 L276.26,102.86 L276.96,102.65 L277.66,102.44 L278.36,102.22 L279.06,102.00 L279.76,101.77 L280.46,101.54 L281.16,101.31 L281.86,101.07 L282.56,100.82 L283.25,100.58 L283.95,100.33 L284.65,100.07 L285.35,99.81 L286.05,99.55 L286.75,99.28 L287.45,99.01 L288.15,98.74 L288.85,98.46 L289.54,98.18 L290.24,97.89 L290.94,97.60 L291.64,97.31 L292.34,97.01 L293.04,96.71 L293.74,96.41 L294.44,96.10 L295.14,95.79 L295.84,95.47 L296.53,95.15 L297.23,94.83 L297.93,94.47 L298.63,94.04 L299.33,93.60 L300.03,93.16 L300.73,92.72 L301.43,92.28 L302.13,91.85 L302.82,91.41 L303.52,90.97 L304.22,90.53 L304.92,90.10 L305.62,89.66 L306.32,89.22 L307.02,88.79 L307.72,88.35 L308.42,87.91 L309.12,87.48 L309.81,87.04 L310.51,86.61 L311.21,86.17 L311.91,85.74 L312.61,85.30 L313.31,84.86 L314.01,84.43 L314.71,83.99 L315.41,83.56 L316.11,83.12 L316.80,82.69 L317.50,82.25 L318.20,81.82 L318.90,81.38 L319.60,80.95 L320.30,80.51 L321.00,80.08 L321.70,79.64 L322.40,79.21 L323.09,78.77 L323.79,78.34 L324.49,77.91 L325.19,77.47 L325.89,77.04 L326.59,76.60 L327.29,76.17 L327.99,75.73 L328.69,75.30 L329.39,74.87 L330.08,74.43 L330.78,74.00 L331.48,73.56 L332.18,73.13 L332.88,72.70 L333.58,72.26 L334.28,71.83 L334.98,71.39 L335.68,70.96 L336.38,70.53 L337.07,70.09 L337.77,69.66 L338.47,69.22 L339.17,68.79 L339.87,68.36 L340.57,67.92 L341.27,67.49 L341.97,67.06 L342.67,66.62 L343.36,66.19 L344.06,65.76 L344.76,65.32 L345.46,64.89 L346.16,64.45 L346.86,64.02 L347.56,63.59 L348.26,63.15 L348.96,62.72 L349.66,62.29 L350.35,61.85 L351.05,61.42 L351.75,60.99 L352.45,60.55 L353.15,60.12 L353.85,59.69 L354.55,59.25 L355.25,58.82 L355.95,58.39 L356.64,57.95 L357.34,57.52 L358.04,57.09 L358.74,56.65 L359.44,56.22 L360.14,55.79 L360.84,55.35 L361.54,54.92 L362.24,54.49 L362.94,54.05 L363.63,53.62 L364.33,53.19 L365.03,52.75 L365.73,52.32 L366.43,51.89 L367.13,51.45 L367.83,51.02 L368.53,50.59 L369.23,50.15 L369.92,49.72 L370.62,49.29 L371.32,48.85 L372.02,48.42 L372.72,47.99 L373.42,47.56 L374.12,47.12 L374.82,46.69 L375.52,46.26 L376.22,45.82 L376.91,45.39 L377.61,44.96 L378.31,44.52 L379.01,44.09 L379.71,43.66 L380.41,43.22 L381.11,42.79 L381.81,42.36 L382.51,41.92 L383.21,41.49 L383.90,41.06 L384.60,40.62 L385.30,40.19 L386.00,39.76 L386.70,39.32" stroke-width="0.55" stroke-dasharray="4.4 1.8"/>
<path d="M51.20,143.59 L51.90,143.59 L52.60,143.58 L53.30,143.57 L54.00,143.56 L54.69,143.55 L55.39,143.54 L56.09,143.53 L56.79,143.52 L57.49,143.51 L58.19,143.49 L58.89,143.48 L59.59,143.47 L60.29,143.46 L60.99,143.45 L61.68,143.44 L62.38,143.43 L63.08,143.41 L63.78,143.40 L64.48,143.39 L65.18,143.37 L65.88,143.36 L66.58,143.35 L67.28,143.33 L67.98,143.32 L68.67,143.31 L69.37,143.29 L70.07,143.28 L70.77,143.26 L71.47,143.24 L72.17,143.23 L72.87,143.21 L73.57,143.20 L74.27,143.18 L74.96,143.16 L75.66,143.15 L76.36,143.13 L77.06,143.11 L77.76,143.09 L78.46,143.07 L79.16,143.05 L79.86,143.03 L80.56,143.01 L81.26,142.99 L81.95,142.97 L82.65,142.95 L83.35,142.93 L84.05,142.91 L84.75,142.89 L85.45,142.87 L86.15,142.84 L86.85,142.82 L87.55,142.80 L88.24,142.77 L88.94,142.75 L89.64,142.72 L90.34,142.70 L91.04,142.67 L91.74,142.64 L92.44,142.62 L93.14,142.59 L93.84,142.56 L94.54,142.53 L95.23,142.51 L95.93,142.48 L96.63,142.45 L97.33,142.42 L98.03,142.38 L98.73,142.35 L99.43,142.32 L100.13,142.29 L100.83,142.25 L101.53,142.22 L102.22,142.18 L102.92,142.15 L103.62,142.11 L104.32,142.08 L105.02,142.04 L105.72,142.00 L106.42,141.96 L107.12,141.92 L107.82,141.88 L108.51,141.84 L109.21,141.80 L109.91,141.76 L110.61,141.72 L111.31,141.67 L112.01,141.63 L112.71,141.58 L113.41,141.54 L114.11,141.49 L114.81,141.44 L115.50,141.39 L116.20,141.35 L116.90,141.29 L117.60,141.24 L118.30,141.19 L119.00,141.14 L119.70,141.08 L120.40,141.03 L121.10,140.97 L121.79,140.92 L122.49,140.86 L123.19,140.80 L123.89,140.74 L124.59,140.68 L125.29,140.62 L125.99,140.56 L126.69,140.49 L127.39,140.43 L128.09,140.36 L128.78,140.29 L129.48,140.23 L130.18,140.16 L130.88,140.09 L131.58,140.01 L132.28,139.94 L132.98,139.87 L133.68,139.79 L134.38,139.72 L135.07,139.64 L135.77,139.56 L136.47,139.48 L137.17,139.40 L137.87,139.31 L138.57,139.23 L139.27,139.14 L139.97,139.06 L140.67,138.97 L141.37,138.88 L142.06,138.79 L142.76,138.69 L143.46,138.60 L144.16,138.50 L144.86,138.40 L145.56,138.31 L146.26,138.20 L146.96,138.10 L147.66,138.00 L148.36,137.89 L149.05,137.79 L149.75,137.68 L150.45,137.57 L151.15,137.46 L151.85,137.34 L152.55,137.23 L153.25,137.11 L153.95,136.99 L154.65,136.87 L155.34,136.75 L156.04,136.62 L156.74,136.50 L157.44,136.37 L158.14,136.24 L158.84,136.11 L159.54,135.97 L160.24,135.84 L160.94,135.70 L161.64,135.56 L162.33,135.42 L163.03,135.27 L163.73,135.13 L164.43,134.98 L165.13,134.83 L165.83,134.68 L166.53,134.52 L167.23,134.37 L167.93,134.21 L168.62,134.05 L169.32,133.89 L170.02,133.72 L170.72,133.56 L171.42,133.39 L172.12,133.21 L172.82,133.04 L173.52,132.87 L174.22,132.69 L174.92,132.51 L175.61,132.32 L176.31,132.14 L177.01,131.95 L177.71,131.76 L178.41,131.57 L179.11,131.37 L179.81,131.18 L180.51,130.98 L181.21,130.78 L181.91,130.57 L182.60,130.36 L183.30,130.15 L184.00,129.94 L184.70,129.73 L185.40,129.51 L186.10,129.29 L186.80,129.07 L187.50,128.85 L188.20,128.62 L188.89,128.39 L189.59,128.16 L190.29,127.92 L190.99,127.69 L191.69,127.45 L192.39,127.20 L193.09,126.96 L193.79,126.71 L194.49,126.46 L195.19,126.21 L195.88,125.96 L196.58,125.70 L197.28,125.44 L197.98,125.17 L198.68,124.91 L199.38,124.64 L200.08,124.37 L200.78,124.10 L201.48,123.82 L202.18,123.54 L202.87,123.26 L203.57,122.98 L204.27,122.69 L204.97,122.40 L205.67,122.11 L206.37,121.82 L207.07,121.52 L207.77,121.22 L208.47,120.92 L209.16,120.62 L209.86,120.31 L210.56,120.00 L211.26,119.69 L211.96,119.38 L212.66,119.06 L213.36,118.75 L214.06,118.43 L214.76,118.10 L215.46,117.78 L216.15,117.45 L216.85,117.12 L217.55,116.79 L218.25,116.45 L218.95,116.12 L219.65,115.78 L220.35,115.44 L221.05,115.09 L221.75,114.75 L222.44,114.40 L223.14,114.05 L223.84,113.70 L224.54,113.35 L225.24,112.99 L225.94,112.63 L226.64,112.27 L227.34,111.91 L228.04,111.55 L228.74,111.18 L229.43,110.82 L230.13,110.45 L230.83,110.08 L231.53,109.71 L232.23,109.33 L232.93,108.96 L233.63,108.58 L234.33,108.20 L235.03,107.82 L235.73,107.44 L236.42,107.06 L237.12,106.67 L237.82,106.29 L238.52,105.90 L239.22,105.51 L239.92,105.12 L240.62,104.73 L241.32,104.34 L242.02,103.94 L242.71,103.55 L243.41,103.15 L244.11,102.75 L244.81,102.35 L245.51,101.96 L246.21,101.55 L246.91,101.15 L247.61,100.75 L248.31,100.35 L249.01,99.94 L249.70,99.54 L250.40,99.13 L251.10,98.72 L251.80,98.31 L252.50,97.90 L253.20,97.49 L253.90,97.08 L254.60,96.67 L255.30,96.26 L255.99,95.85 L256.69,95.43 L257.39,95.02 L258.09,94.60 L258.79,94.19 L259.49,93.77 L260.19,93.36 L260.89,92.94 L261.59,92.52 L262.29,92.10 L262.98,91.68 L263.68,91.27 L264.38,90.85 L265.08,90.42 L265.78,90.00 L266.48,89.58 L267.18,89.16 L267.88,88.74 L268.58,88.32 L269.28,87.89 L269.97,87.47 L270.67,87.05 L271.37,86.62 L272.07,86.20 L272.77,85.77 L273.47,85.35 L274.17,84.92 L274.87,84.50 L275.57,84.07 L276.26,83.65 L276.96,83.22 L277.66,82.79 L278.36,82.37 L279.06,81.94 L279.76,81.51 L280.46,81.09 L281.16,80.66 L281.86,80.23 L282.56,79.80 L283.25,79.37 L283.95,78.95 L284.65,78.52 L285.35,78.09 L286.05,77.66 L286.75,77.23 L287.45,76.80 L288.15,76.37 L288.85,75.94 L289.54,75.51 L290.24,75.08 L290.94,74.65 L291.64,74.22 L292.34,73.79 L293.04,73.36 L293.74,72.93 L294.44,72.50 L295.14,72.07 L295.84,71.64 L296.53,71.21 L297.23,70.78 L297.93,70.35 L298.63,69.92 L299.33,69.49 L300.03,69.06 L300.73,68.63 L301.43,68.19 L302.13,67.76 L302.82,67.33 L303.52,66.90 L304.22,66.47 L304.92,66.04 L305.62,65.60 L306.32,65.17 L307.02,64.74 L307.72,64.31 L308.42,63.88 L309.12,63.45 L309.81,63.01 L310.51,62.58 L311.21,62.15 L311.91,61.72 L312.61,61.29 L313.31,60.85 L314.01,60.42 L314.71,59.99 L315.41,59.56 L316.11,59.12 L316.80,58.69 L317.50,58.26 L318.20,57.83 L318.90,57.39 L319.60,56.96 L320.30,56.53 L321.00,56.10 L321.70,55.66 L322.40,55.23 L323.09,54.80 L323.79,54.37 L324.49,53.93 L325.19,53.50 L325.89,53.07 L326.59,52.64 L327.29,52.20 L327.99,51.77 L328.69,51.34 L329.39,50.91 L330.08,50.47 L330.78,50.04 L331.48,49.61 L332.18,49.17 L332.88,48.74 L333.58,48.31 L334.28,47.88 L334.98,47.44 L335.68,47.01 L336.38,46.58 L337.07,46.15 L337.77,45.71 L338.47,45.28 L339.17,44.85 L339.87,44.41 L340.57,43.98 L341.27,43.55 L341.97,43.11 L342.67,42.68 L343.36,42.25 L344.06,41.82 L344.76,41.38 L345.46,40.95 L346.16,40.52 L346.86,40.08 L347.56,39.65 L348.26,39.22 L348.96,38.79 L349.66,38.35 L350.35,37.92 L351.05,37.49 L351.75,37.05 L352.45,36.62 L353.15,36.19 L353.85,35.75 L354.55,35.32 L355.25,34.89 L355.95,34.46 L356.64,34.02 L357.34,33.59 L358.04,33.16 L358.74,32.72 L359.44,32.29 L360.14,31.86 L360.84,31.42 L361.54,30.99 L362.24,30.56 L362.94,30.12 L363.63,29.69 L364.33,29.26 L365.03,28.83 L365.73,28.39 L366.43,27.96 L367.13,27.53 L367.83,27.09 L368.53,26.66 L369.23,26.23 L369.92,25.79 L370.62,25.36 L371.32,24.93 L372.02,24.49 L372.72,24.06 L373.42,23.63 L374.12,23.20 L374.82,22.76 L375.52,22.33 L376.22,21.90 L376.91,21.46 L377.61,21.03 L378.31,20.60 L379.01,20.16 L379.71,19.73 L380.41,19.30 L381.11,18.86 L381.81,18.43 L382.51,18.00 L383.21,17.57 L383.90,17.13 L384.60,16.70 L385.30,16.27 L386.00,15.83 L386.70,15.40" stroke-width="0.4" stroke="#333"/>
<path d="M51.20,154.18 L51.90,154.20 L52.60,154.21 L53.30,154.23 L54.00,154.24 L54.69,154.26 L55.39,154.28 L56.09,154.29 L56.79,154.31 L57.49,154.33 L58.19,154.34 L58.89,154.36 L59.59,154.38 L60.29,154.40 L60.99,154.42 L61.68,154.43 L62.38,154.45 L63.08,154.47 L63.78,154.49 L64.48,154.51 L65.18,154.54 L65.88,154.56 L66.58,154.58 L67.28,154.60 L67.98,154.62 L68.67,154.65 L69.37,154.67 L70.07,154.70 L70.77,154.72 L71.47,154.75 L72.17,154.77 L72.87,154.80 L73.57,154.83 L74.27,154.85 L74.96,154.88 L75.66,154.91 L76.36,154.94 L77.06,154.97 L77.76,155.00 L78.46,155.03 L79.16,155.06 L79.86,155.09 L80.56,155.13 L81.26,155.16 L81.95,155.19 L82.65,155.23 L83.35,155.26 L84.05,155.30 L84.75,155.34 L85.45,155.38 L86.15,155.42 L86.85,155.46 L87.55,155.50 L88.24,155.54 L88.94,155.58 L89.64,155.62 L90.34,155.67 L91.04,155.71 L91.74,155.76 L92.44,155.80 L93.14,155.85 L93.84,155.90 L94.54,155.95 L95.23,156.00 L95.93,156.05 L96.63,156.11 L97.33,156.16 L98.03,156.22 L98.73,156.27 L99.43,156.33 L100.13,156.39 L100.83,156.45 L101.53,156.51 L102.22,156.58 L102.92,156.64 L103.62,156.71 L104.32,156.77 L105.02,156.84 L105.72,156.91 L106.42,156.99 L107.12,157.06 L107.82,157.13 L108.51,157.21 L109.21,157.29 L109.91,157.37 L110.61,157.45 L111.31,157.54 L112.01,157.62 L112.71,157.71 L113.41,157.80 L114.11,157.89 L114.81,157.99 L115.50,158.08 L116.20,158.18 L116.90,158.28 L117.60,158.39 L118.30,158.49 L119.00,158.60 L119.70,158.71 L120.40,158.82 L121.10,158.94 L121.79,159.06 L122.49,159.18 L123.19,159.31 L123.89,159.43 L124.59,159.57 L125.29,159.70 L125.99,159.84 L126.69,159.98 L127.39,160.12 L128.09,160.27 L128.78,160.42 L129.48,160.58 L130.18,160.74 L130.88,160.91 L131.58,161.07 L132.28,161.25 L132.98,161.42 L133.68,161.61 L134.38,161.79 L135.07,161.99 L135.77,162.18 L136.47,162.39 L137.17,162.60 L137.87,162.81 L138.57,163.03 L139.27,163.26 L139.97,163.49 L140.67,163.73 L141.37,163.98 L142.06,164.23 L142.76,164.50 L143.46,164.77 L144.16,165.05 L144.86,165.33 L145.56,165.63 L146.26,165.94 L146.96,166.25 L147.66,166.58 L148.36,166.92 L149.05,167.27 L149.75,167.63 L150.45,168.00 L151.15,168.39 L151.85,168.79 L152.55,169.20 L153.25,169.63 L153.95,170.08 L154.65,170.54 L155.34,171.02 L156.04,171.53 L156.74,172.05 L157.44,172.59 L158.14,173.16 L158.84,173.75 L159.54,174.37 L160.24,175.02 L160.94,175.70 L161.64,176.42 L162.33,177.17 L163.03,177.96 L163.73,178.80 L164.43,179.68 L165.13,180.61 L165.83,181.60 L166.53,182.66 L167.23,183.79 L167.93,185.00 L168.62,186.30 L169.32,187.70 L170.02,189.22 L170.72,190.89 L171.42,192.71 L172.12,194.74 L172.82,197.00 L173.52,199.57 L174.22,202.51 L174.92,205.96 L175.61,210.11 L176.31,215.29 L177.01,222.17 M202.18,217.39 L202.87,208.70 L203.57,202.36 L204.27,197.35 L204.97,193.20 L205.67,189.65 L206.37,186.54 L207.07,183.77 L207.77,181.27 L208.47,178.99 L209.16,176.89 L209.86,174.94 L210.56,173.12 L211.26,171.42 L211.96,169.81 L212.66,168.29 L213.36,166.84 L214.06,165.47 L214.76,164.15 L215.46,162.89 L216.15,161.68 L216.85,160.52 L217.55,159.39 L218.25,158.31 L218.95,157.26 L219.65,156.24 L220.35,155.25 L221.05,154.30 L221.75,153.36 L222.44,152.45 L223.14,151.57 L223.84,150.70 L224.54,149.86 L225.24,149.03 L225.94,148.23 L226.64,147.43 L227.34,146.66 L228.04,145.90 L228.74,145.15 L229.43,144.42 L230.13,143.70 L230.83,142.99 L231.53,142.29 L232.23,141.60 L232.93,140.93 L233.63,140.26 L234.33,139.60 L235.03,138.95 L235.73,138.31 L236.42,137.68 L237.12,137.06 L237.82,136.44 L238.52,135.83 L239.22,135.23 L239.92,134.63 L240.62,134.04 L241.32,133.45 L242.02,132.88 L242.71,132.30 L243.41,131.73 L244.11,131.17 L244.81,130.61 L245.51,130.06 L246.21,129.51 L246.91,128.97 L247.61,128.42 L248.31,127.89 L249.01,127.35 L249.70,126.82 L250.40,126.30 L251.10,125.78 L251.80,125.26 L252.50,124.74 L253.20,124.23 L253.90,123.72 L254.60,123.21 L255.30,122.70 L255.99,122.20 L256.69,121.70 L257.39,121.20 L258.09,120.71 L258.79,120.21 L259.49,119.72 L260.19,119.23 L260.89,118.75 L261.59,118.26 L262.29,117.78 L262.98,117.30 L263.68,116.82 L264.38,116.34 L265.08,115.86 L265.78,115.39 L266.48,114.91 L267.18,114.44 L267.88,113.97 L268.58,113.50 L269.28,113.03 L269.97,112.57 L270.67,112.10 L271.37,111.64 L272.07,111.17 L272.77,110.71 L273.47,110.25 L274.17,109.80 L274.87,109.34 L275.57,108.89 L276.26,108.44 L276.96,107.99 L277.66,107.54 L278.36,107.09 L279.06,106.65 L279.76,106.20 L280.46,105.75 L281.16,105.30 L281.86,104.86 L282.56,104.41 L283.25,103.97 L283.95,103.52 L284.65,103.08 L285.35,102.63 L286.05,102.19 L286.75,101.75 L287.45,101.31 L288.15,100.86 L288.85,100.42 L289.54,99.98 L290.24,99.54 L290.94,99.10 L291.64,98.66 L292.34,98.21 L293.04,97.77 L293.74,97.33 L294.44,96.89 L295.14,96.45 L295.84,96.02 L296.53,95.58 L297.23,95.14 L297.93,94.70 L298.63,94.26 L299.33,93.82 L300.03,93.38 L300.73,92.95 L301.43,92.51 L302.13,92.07 L302.82,91.63 L303.52,91.20 L304.22,90.76 L304.92,90.32 L305.62,89.89 L306.32,89.45 L307.02,89.01 L307.72,88.58 L308.42,88.14 L309.12,87.70 L309.81,87.27 L310.51,86.83 L311.21,86.40 L311.91,85.96 L312.61,85.52 L313.31,85.09 L314.01,84.65 L314.71,84.22 L315.41,83.78 L316.11,83.35 L316.80,82.91 L317.50,82.48 L318.20,82.04 L318.90,81.61 L319.60,81.17 L320.30,80.74 L321.00,80.30 L321.70,79.87 L322.40,79.43 L323.09,79.00 L323.79,78.56 L324.49,78.13 L325.19,77.70 L325.89,77.26 L326.59,76.83 L327.29,76.39 L327.99,75.96 L328.69,75.52 L329.39,75.09 L330.08,74.66 L330.78,74.22 L331.48,73.79 L332.18,73.35 L332.88,72.92 L333.58,72.49 L334.28,72.05 L334.98,71.62 L335.68,71.18 L336.38,70.75 L337.07,70.32 L337.77,69.88 L338.47,69.45 L339.17,69.02 L339.87,68.58 L340.57,68.15 L341.27,67.71 L341.97,67.28 L342.67,66.85 L343.36,66.41 L344.06,65.98 L344.76,65.55 L345.46,65.11 L346.16,64.68 L346.86,64.25 L347.56,63.81 L348.26,63.38 L348.96,62.95 L349.66,62.51 L350.35,62.08 L351.05,61.65 L351.75,61.21 L352.45,60.78 L353.15,60.34 L353.85,59.91 L354.55,59.48 L355.25,59.04 L355.95,58.61 L356.64,58.18 L357.34,57.74 L358.04,57.31 L358.74,56.88 L359.44,56.44 L360.14,56.01 L360.84,55.58 L361.54,55.14 L362.24,54.71 L362.94,54.28 L363.63,53.85 L364.33,53.41 L365.03,52.98 L365.73,52.55 L366.43,52.11 L367.13,51.68 L367.83,51.25 L368.53,50.81 L369.23,50.38 L369.92,49.95 L370.62,49.51 L371.32,49.08 L372.02,48.65 L372.72,48.21 L373.42,47.78 L374.12,47.35 L374.82,46.91 L375.52,46.48 L376.22,46.05 L376.91,45.61 L377.61,45.18 L378.31,44.75 L379.01,44.31 L379.71,43.88 L380.41,43.45 L381.11,43.01 L381.81,42.58 L382.51,42.15 L383.21,41.71 L383.90,41.28 L384.60,40.85 L385.30,40.42 L386.00,39.98 L386.70,39.55" stroke-width="0.4" stroke="#333"/>
<path d="M51.20,146.52 L51.90,146.51 L52.60,146.50 L53.30,146.49 L54.00,146.48 L54.69,146.46 L55.39,146.45 L56.09,146.44 L56.79,146.43 L57.49,146.41 L58.19,146.40 L58.89,146.39 L59.59,146.37 L60.29,146.36 L60.99,146.35 L61.68,146.33 L62.38,146.32 L63.08,146.30 L63.78,146.29 L64.48,146.27 L65.18,146.25 L65.88,146.24 L66.58,146.22 L67.28,146.21 L67.98,146.19 L68.67,146.17 L69.37,146.15 L70.07,146.14 L70.77,146.12 L71.47,146.10 L72.17,146.08 L72.87,146.06 L73.57,146.04 L74.27,146.02 L74.96,146.00 L75.66,145.98 L76.36,145.96 L77.06,145.94 L77.76,145.91 L78.46,145.89 L79.16,145.87 L79.86,145.84 L80.56,145.82 L81.26,145.80 L81.95,145.77 L82.65,145.75 L83.35,145.72 L84.05,145.70 L84.75,145.67 L85.45,145.64 L86.15,145.61 L86.85,145.59 L87.55,145.56 L88.24,145.53 L88.94,145.50 L89.64,145.47 L90.34,145.44 L91.04,145.41 L91.74,145.38 L92.44,145.34 L93.14,145.31 L93.84,145.28 L94.54,145.24 L95.23,145.21 L95.93,145.17 L96.63,145.14 L97.33,145.10 L98.03,145.06 L98.73,145.03 L99.43,144.99 L100.13,144.95 L100.83,144.91 L101.53,144.87 L102.22,144.83 L102.92,144.78 L103.62,144.74 L104.32,144.70 L105.02,144.65 L105.72,144.61 L106.42,144.56 L107.12,144.52 L107.82,144.47 L108.51,144.42 L109.21,144.37 L109.91,144.32 L110.61,144.27 L111.31,144.22 L112.01,144.17 L112.71,144.11 L113.41,144.06 L114.11,144.00 L114.81,143.94 L115.50,143.89 L116.20,143.83 L116.90,143.77 L117.60,143.71 L118.30,143.65 L119.00,143.59 L119.70,143.52 L120.40,143.46 L121.10,143.39 L121.79,143.32 L122.49,143.26 L123.19,143.19 L123.89,143.12 L124.59,143.05 L125.29,142.97 L125.99,142.90 L126.69,142.83 L127.39,142.75 L128.09,142.67 L128.78,142.59 L129.48,142.51 L130.18,142.43 L130.88,142.35 L131.58,142.27 L132.28,142.18 L132.98,142.09 L133.68,142.01 L134.38,141.92 L135.07,141.83 L135.77,141.73 L136.47,141.64 L137.17,141.55 L137.87,141.45 L138.57,141.35 L139.27,141.25 L139.97,141.15 L140.67,141.05 L141.37,140.94 L142.06,140.84 L142.76,140.73 L143.46,140.62 L144.16,140.51 L144.86,140.40 L145.56,140.28 L146.26,140.17 L146.96,140.05 L147.66,139.93 L148.36,139.81 L149.05,139.69 L149.75,139.57 L150.45,139.44 L151.15,139.31 L151.85,139.18 L152.55,139.05 L153.25,138.92 L153.95,138.78 L154.65,138.64 L155.34,138.50 L156.04,138.36 L156.74,138.22 L157.44,138.07 L158.14,137.93 L158.84,137.78 L159.54,137.63 L160.24,137.47 L160.94,137.32 L161.64,137.16 L162.33,137.00 L163.03,136.84 L163.73,136.68 L164.43,136.51 L165.13,136.34 L165.83,136.18 L166.53,136.00 L167.23,135.83 L167.93,135.65 L168.62,135.47 L169.32,135.29 L170.02,135.11 L170.72,134.92 L171.42,134.74 L172.12,134.55 L172.82,134.36 L173.52,134.16 L174.22,133.96 L174.92,133.77 L175.61,133.56 L176.31,133.36 L177.01,133.15 L177.71,132.95 L178.41,132.74 L179.11,132.52 L179.81,132.31 L180.51,132.09 L181.21,131.87 L181.91,131.65 L182.60,131.42 L183.30,131.19 L184.00,130.96 L184.70,130.73 L185.40,130.50 L186.10,130.26 L186.80,130.02 L187.50,129.78 L188.20,129.54 L188.89,129.29 L189.59,129.04 L190.29,128.79 L190.99,128.53 L191.69,128.28 L192.39,128.02 L193.09,127.76 L193.79,127.49 L194.49,127.23 L195.19,126.96 L195.88,126.69 L196.58,126.41 L197.28,126.14 L197.98,125.86 L198.68,125.58 L199.38,125.29 L200.08,125.01 L200.78,124.72 L201.48,124.43 L202.18,124.14 L202.87,123.84 L203.57,123.54 L204.27,123.24 L204.97,122.94 L205.67,122.64 L206.37,122.33 L207.07,122.02 L207.77,121.71 L208.47,121.40 L209.16,121.08 L209.86,120.76 L210.56,120.44 L211.26,120.12 L211.96,119.79 L212.66,119.47 L213.36,119.14 L214.06,118.80 L214.76,118.47 L215.46,118.14 L216.15,117.80 L216.85,117.46 L217.55,117.12 L218.25,116.77 L218.95,116.42 L219.65,116.08 L220.35,115.73 L221.05,115.37 L221.75,115.02 L222.44,114.67 L223.14,114.31 L223.84,113.95 L224.54,113.59 L225.24,113.22 L225.94,112.86 L226.64,112.49 L227.34,112.12 L228.04,111.75 L228.74,111.38 L229.43,111.01 L230.13,110.63 L230.83,110.26 L231.53,109.88 L232.23,109.50 L232.93,109.12 L233.63,108.74 L234.33,108.35 L235.03,107.97 L235.73,107.58 L236.42,107.19 L237.12,106.80 L237.82,106.41 L238.52,106.02 L239.22,105.63 L239.92,105.23 L240.62,104.84 L241.32,104.44 L242.02,104.04 L242.71,103.65 L243.41,103.25 L244.11,102.85 L244.81,102.44 L245.51,102.04 L246.21,101.64 L246.91,101.23 L247.61,100.83 L248.31,100.42 L249.01,100.01 L249.70,99.60 L250.40,99.20 L251.10,98.79 L251.80,98.38 L252.50,97.96 L253.20,97.55 L253.90,97.14 L254.60,96.73 L255.30,96.31 L255.99,95.90 L256.69,95.48 L257.39,95.07 L258.09,94.65 L258.79,94.23 L259.49,93.81 L260.19,93.40 L260.89,92.98 L261.59,92.56 L262.29,92.14 L262.98,91.72 L263.68,91.30 L264.38,90.88 L265.08,90.46 L265.78,90.03 L266.48,89.61 L267.18,89.19 L267.88,88.77 L268.58,88.34 L269.28,87.92 L269.97,87.49 L270.67,87.07 L271.37,86.64 L272.07,86.22 L272.77,85.79 L273.47,85.37 L274.17,84.94 L274.87,84.52 L275.57,84.09 L276.26,83.66 L276.96,83.24 L277.66,82.81 L278.36,82.38 L279.06,81.96 L279.76,81.53 L280.46,81.10 L281.16,80.67 L281.86,80.24 L282.56,79.81 L283.25,79.39 L283.95,78.96 L284.65,78.53 L285.35,78.10 L286.05,77.67 L286.75,77.24 L287.45,76.81 L288.15,76.38 L288.85,75.95 L289.54,75.52 L290.24,75.09 L290.94,74.66 L291.64,74.23 L292.34,73.80 L293.04,73.37 L293.74,72.94 L294.44,72.51 L295.14,72.08 L295.84,71.65 L296.53,71.22 L297.23,70.79 L297.93,70.35 L298.63,69.92 L299.33,69.49 L300.03,69.06 L300.73,68.63 L301.43,68.20 L302.13,67.77 L302.82,67.33 L303.52,66.90 L304.22,66.47 L304.92,66.04 L305.62,65.61 L306.32,65.18 L307.02,64.74 L307.72,64.31 L308.42,63.88 L309.12,63.45 L309.81,63.02 L310.51,62.58 L311.21,62.15 L311.91,61.72 L312.61,61.29 L313.31,60.86 L314.01,60.42 L314.71,59.99 L315.41,59.56 L316.11,59.13 L316.80,58.69 L317.50,58.26 L318.20,57.83 L318.90,57.40 L319.60,56.96 L320.30,56.53 L321.00,56.10 L321.70,55.67 L322.40,55.23 L323.09,54.80 L323.79,54.37 L324.49,53.94 L325.19,53.50 L325.89,53.07 L326.59,52.64 L327.29,52.21 L327.99,51.77 L328.69,51.34 L329.39,50.91 L330.08,50.47 L330.78,50.04 L331.48,49.61 L332.18,49.18 L332.88,48.74 L333.58,48.31 L334.28,47.88 L334.98,47.44 L335.68,47.01 L336.38,46.58 L337.07,46.15 L337.77,45.71 L338.47,45.28 L339.17,44.85 L339.87,44.41 L340.57,43.98 L341.27,43.55 L341.97,43.12 L342.67,42.68 L343.36,42.25 L344.06,41.82 L344.76,41.38 L345.46,40.95 L346.16,40.52 L346.86,40.08 L347.56,39.65 L348.26,39.22 L348.96,38.79 L349.66,38.35 L350.35,37.92 L351.05,37.49 L351.75,37.05 L352.45,36.62 L353.15,36.19 L353.85,35.75 L354.55,35.32 L355.25,34.89 L355.95,34.46 L356.64,34.02 L357.34,33.59 L358.04,33.16 L358.74,32.72 L359.44,32.29 L360.14,31.86 L360.84,31.42 L361.54,30.99 L362.24,30.56 L362.94,30.12 L363.63,29.69 L364.33,29.26 L365.03,28.83 L365.73,28.39 L366.43,27.96 L367.13,27.53 L367.83,27.09 L368.53,26.66 L369.23,26.23 L369.92,25.79 L370.62,25.36 L371.32,24.93 L372.02,24.49 L372.72,24.06 L373.42,23.63 L374.12,23.20 L374.82,22.76 L375.52,22.33 L376.22,21.90 L376.91,21.46 L377.61,21.03 L378.31,20.60 L379.01,20.16 L379.71,19.73 L380.41,19.30 L381.11,18.86 L381.81,18.43 L382.51,18.00 L383.21,17.57 L383.90,17.13 L384.60,16.70 L385.30,16.27 L386.00,15.83 L386.70,15.40" stroke-width="0.6" stroke-dasharray="4.4 1.8"/>
<path d="M51.20,150.36 L51.90,150.37 L52.60,150.38 L53.30,150.39 L54.00,150.41 L54.69,150.42 L55.39,150.43 L56.09,150.45 L56.79,150.46 L57.49,150.47 L58.19,150.49 L58.89,150.50 L59.59,150.52 L60.29,150.53 L60.99,150.55 L61.68,150.57 L62.38,150.58 L63.08,150.60 L63.78,150.61 L64.48,150.63 L65.18,150.65 L65.88,150.67 L66.58,150.69 L67.28,150.70 L67.98,150.72 L68.67,150.74 L69.37,150.76 L70.07,150.78 L70.77,150.80 L71.47,150.83 L72.17,150.85 L72.87,150.87 L73.57,150.89 L74.27,150.91 L74.96,150.94 L75.66,150.96 L76.36,150.99 L77.06,151.01 L77.76,151.04 L78.46,151.06 L79.16,151.09 L79.86,151.11 L80.56,151.14 L81.26,151.17 L81.95,151.20 L82.65,151.23 L83.35,151.26 L84.05,151.29 L84.75,151.32 L85.45,151.35 L86.15,151.38 L86.85,151.41 L87.55,151.45 L88.24,151.48 L88.94,151.52 L89.64,151.55 L90.34,151.59 L91.04,151.63 L91.74,151.66 L92.44,151.70 L93.14,151.74 L93.84,151.78 L94.54,151.82 L95.23,151.87 L95.93,151.91 L96.63,151.95 L97.33,152.00 L98.03,152.04 L98.73,152.09 L99.43,152.14 L100.13,152.19 L100.83,152.24 L101.53,152.29 L102.22,152.34 L102.92,152.39 L103.62,152.45 L104.32,152.50 L105.02,152.56 L105.72,152.62 L106.42,152.68 L107.12,152.74 L107.82,152.80 L108.51,152.86 L109.21,152.93 L109.91,152.99 L110.61,153.06 L111.31,153.13 L112.01,153.20 L112.71,153.27 L113.41,153.34 L114.11,153.42 L114.81,153.49 L115.50,153.57 L116.20,153.65 L116.90,153.73 L117.60,153.82 L118.30,153.90 L119.00,153.99 L119.70,154.08 L120.40,154.17 L121.10,154.27 L121.79,154.36 L122.49,154.46 L123.19,154.56 L123.89,154.66 L124.59,154.77 L125.29,154.88 L125.99,154.99 L126.69,155.10 L127.39,155.22 L128.09,155.34 L128.78,155.46 L129.48,155.58 L130.18,155.71 L130.88,155.84 L131.58,155.97 L132.28,156.11 L132.98,156.25 L133.68,156.39 L134.38,156.54 L135.07,156.69 L135.77,156.85 L136.47,157.01 L137.17,157.17 L137.87,157.34 L138.57,157.51 L139.27,157.68 L139.97,157.87 L140.67,158.05 L141.37,158.24 L142.06,158.44 L142.76,158.64 L143.46,158.85 L144.16,159.06 L144.86,159.28 L145.56,159.50 L146.26,159.74 L146.96,159.97 L147.66,160.22 L148.36,160.47 L149.05,160.73 L149.75,161.00 L150.45,161.28 L151.15,161.56 L151.85,161.85 L152.55,162.16 L153.25,162.47 L153.95,162.79 L154.65,163.12 L155.34,163.47 L156.04,163.82 L156.74,164.19 L157.44,164.57 L158.14,164.97 L158.84,165.38 L159.54,165.80 L160.24,166.24 L160.94,166.70 L161.64,167.17 L162.33,167.67 L163.03,168.18 L163.73,168.71 L164.43,169.27 L165.13,169.85 L165.83,170.46 L166.53,171.10 L167.23,171.76 L167.93,172.46 L168.62,173.19 L169.32,173.97 L170.02,174.78 L170.72,175.64 L171.42,176.54 L172.12,177.51 L172.82,178.53 L173.52,179.62 L174.22,180.79 L174.92,182.04 L175.61,183.39 L176.31,184.85 L177.01,186.43 L177.71,188.17 L178.41,190.09 L179.11,192.22 L179.81,194.61 L180.51,197.34 L181.21,200.50 L181.91,204.24 L182.60,208.81 L183.30,214.66 L184.00,222.73 M196.58,221.76 L197.28,212.78 L197.98,206.30 L198.68,201.20 L199.38,196.99 L200.08,193.39 L200.78,190.25 L201.48,187.46 L202.18,184.94 L202.87,182.64 L203.57,180.53 L204.27,178.57 L204.97,176.74 L205.67,175.03 L206.37,173.41 L207.07,171.89 L207.77,170.44 L208.47,169.05 L209.16,167.74 L209.86,166.47 L210.56,165.26 L211.26,164.09 L211.96,162.97 L212.66,161.88 L213.36,160.83 L214.06,159.81 L214.76,158.82 L215.46,157.86 L216.15,156.93 L216.85,156.02 L217.55,155.13 L218.25,154.27 L218.95,153.42 L219.65,152.60 L220.35,151.79 L221.05,151.00 L221.75,150.22 L222.44,149.46 L223.14,148.71 L223.84,147.98 L224.54,147.26 L225.24,146.55 L225.94,145.85 L226.64,145.17 L227.34,144.49 L228.04,143.83 L228.74,143.17 L229.43,142.52 L230.13,141.88 L230.83,141.25 L231.53,140.63 L232.23,140.01 L232.93,139.41 L233.63,138.80 L234.33,138.21 L235.03,137.62 L235.73,137.04 L236.42,136.46 L237.12,135.89 L237.82,135.32 L238.52,134.76 L239.22,134.20 L239.92,133.65 L240.62,133.10 L241.32,132.56 L242.02,132.02 L242.71,131.48 L243.41,130.95 L244.11,130.42 L244.81,129.90 L245.51,129.38 L246.21,128.86 L246.91,128.35 L247.61,127.83 L248.31,127.33 L249.01,126.82 L249.70,126.32 L250.40,125.81 L251.10,125.32 L251.80,124.82 L252.50,124.33 L253.20,123.83 L253.90,123.35 L254.60,122.86 L255.30,122.37 L255.99,121.89 L256.69,121.41 L257.39,120.93 L258.09,120.45 L258.79,119.97 L259.49,119.50 L260.19,119.02 L260.89,118.55 L261.59,118.08 L262.29,117.61 L262.98,117.14 L263.68,116.68 L264.38,116.21 L265.08,115.75 L265.78,115.28 L266.48,114.82 L267.18,114.36 L267.88,113.90 L268.58,113.44 L269.28,112.98 L269.97,112.52 L270.67,112.07 L271.37,111.61 L272.07,111.16 L272.77,110.70 L273.47,110.25 L274.17,109.80 L274.87,109.34 L275.57,108.89 L276.26,108.44 L276.96,107.99 L277.66,107.54 L278.36,107.09 L279.06,106.65 L279.76,106.20 L280.46,105.75 L281.16,105.30 L281.86,104.86 L282.56,104.41 L283.25,103.97 L283.95,103.52 L284.65,103.08 L285.35,102.63 L286.05,102.19 L286.75,101.75 L287.45,101.31 L288.15,100.86 L288.85,100.42 L289.54,99.98 L290.24,99.54 L290.94,99.10 L291.64,98.66 L292.34,98.21 L293.04,97.77 L293.74,97.33 L294.44,96.89 L295.14,96.45 L295.84,96.02 L296.53,95.58 L297.23,95.14 L297.93,94.70 L298.63,94.26 L299.33,93.82 L300.03,93.38 L300.73,92.95 L301.43,92.51 L302.13,92.07 L302.82,91.63 L303.52,91.20 L304.22,90.76 L304.92,90.32 L305.62,89.89 L306.32,89.45 L307.02,89.01 L307.72,88.58 L308.42,88.14 L309.12,87.70 L309.81,87.27 L310.51,86.83 L311.21,86.40 L311.91,85.96 L312.61,85.52 L313.31,85.09 L314.01,84.65 L314.71,84.22 L315.41,83.78 L316.11,83.35 L316.80,82.91 L317.50,82.48 L318.20,82.04 L318.90,81.61 L319.60,81.17 L320.30,80.74 L321.00,80.30 L321.70,79.87 L322.40,79.43 L323.09,79.00 L323.79,78.56 L324.49,78.13 L325.19,77.70 L325.89,77.26 L326.59,76.83 L327.29,76.39 L327.99,75.96 L328.69,75.52 L329.39,75.09 L330.08,74.66 L330.78,74.22 L331.48,73.79 L332.18,73.35 L332.88,72.92 L333.58,72.49 L334.28,72.05 L334.98,71.62 L335.68,71.18 L336.38,70.75 L337.07,70.32 L337.77,69.88 L338.47,69.45 L339.17,69.02 L339.87,68.58 L340.57,68.15 L341.27,67.71 L341.97,67.28 L342.67,66.85 L343.36,66.41 L344.06,65.98 L344.76,65.55 L345.46,65.11 L346.16,64.68 L346.86,64.25 L347.56,63.81 L348.26,63.38 L348.96,62.95 L349.66,62.51 L350.35,62.08 L351.05,61.65 L351.75,61.21 L352.45,60.78 L353.15,60.34 L353.85,59.91 L354.55,59.48 L355.25,59.04 L355.95,58.61 L356.64,58.18 L357.34,57.74 L358.04,57.31 L358.74,56.88 L359.44,56.44 L360.14,56.01 L360.84,55.58 L361.54,55.14 L362.24,54.71 L362.94,54.28 L363.63,53.85 L364.33,53.41 L365.03,52.98 L365.73,52.55 L366.43,52.11 L367.13,51.68 L367.83,51.25 L368.53,50.81 L369.23,50.38 L369.92,49.95 L370.62,49.51 L371.32,49.08 L372.02,48.65 L372.72,48.21 L373.42,47.78 L374.12,47.35 L374.82,46.91 L375.52,46.48 L376.22,46.05 L376.91,45.61 L377.61,45.18 L378.31,44.75 L379.01,44.31 L379.71,43.88 L380.41,43.45 L381.11,43.01 L381.81,42.58 L382.51,42.15 L383.21,41.71 L383.90,41.28 L384.60,40.85 L385.30,40.42 L386.00,39.98 L386.70,39.55" stroke-width="0.6" stroke-dasharray="4.4 1.8"/>
</g>
<g clip-path="url(#cpR)" fill="none" stroke="#000">
<path d="M51.20,143.59 L51.90,143.59 L52.60,143.58 L53.30,143.57 L54.00,143.56 L54.69,143.55 L55.39,143.54 L56.09,143.53 L56.79,143.52 L57.49,143.51 L58.19,143.49 L58.89,143.48 L59.59,143.47 L60.29,143.46 L60.99,143.45 L61.68,143.44 L62.38,143.43 L63.08,143.41 L63.78,143.40 L64.48,143.39 L65.18,143.37 L65.88,143.36 L66.58,143.35 L67.28,143.33 L67.98,143.32 L68.67,143.31 L69.37,143.29 L70.07,143.28 L70.77,143.26 L71.47,143.24 L72.17,143.23 L72.87,143.21 L73.57,143.20 L74.27,143.18 L74.96,143.16 L75.66,143.15 L76.36,143.13 L77.06,143.11 L77.76,143.09 L78.46,143.07 L79.16,143.05 L79.86,143.03 L80.56,143.01 L81.26,142.99 L81.95,142.97 L82.65,142.95 L83.35,142.93 L84.05,142.91 L84.75,142.89 L85.45,142.87 L86.15,142.84 L86.85,142.82 L87.55,142.80 L88.24,142.77 L88.94,142.75 L89.64,142.72 L90.34,142.70 L91.04,142.67 L91.74,142.64 L92.44,142.62 L93.14,142.59 L93.84,142.56 L94.54,142.53 L95.23,142.51 L95.93,142.48 L96.63,142.45 L97.33,142.42 L98.03,142.38 L98.73,142.35 L99.43,142.32 L100.13,142.29 L100.83,142.25 L101.53,142.22 L102.22,142.18 L102.92,142.15 L103.62,142.11 L104.32,142.08 L105.02,142.04 L105.72,142.00 L106.42,141.96 L107.12,141.92 L107.82,141.88 L108.51,141.84 L109.21,141.80 L109.91,141.76 L110.61,141.72 L111.31,141.67 L112.01,141.63 L112.71,141.58 L113.41,141.54 L114.11,141.49 L114.81,141.44 L115.50,141.39 L116.20,141.35 L116.90,141.29 L117.60,141.24 L118.30,141.19 L119.00,141.14 L119.70,141.08 L120.40,141.03 L121.10,140.97 L121.79,140.92 L122.49,140.86 L123.19,140.80 L123.89,140.74 L124.59,140.68 L125.29,140.62 L125.99,140.56 L126.69,140.49 L127.39,140.43 L128.09,140.36 L128.78,140.29 L129.48,140.23 L130.18,140.16 L130.88,140.09 L131.58,140.01 L132.28,139.94 L132.98,139.87 L133.68,139.79 L134.38,139.72 L135.07,139.64 L135.77,139.56 L136.47,139.48 L137.17,139.40 L137.87,139.31 L138.57,139.23 L139.27,139.14 L139.97,139.06 L140.67,138.97 L141.37,138.88 L142.06,138.79 L142.76,138.69 L143.46,138.60 L144.16,138.50 L144.86,138.40 L145.56,138.31 L146.26,138.20 L146.96,138.10 L147.66,138.00 L148.36,137.89 L149.05,137.79 L149.75,137.68 L150.45,137.57 L151.15,137.46 L151.85,137.34 L152.55,137.23 L153.25,137.11 L153.95,136.99 L154.65,136.87 L155.34,136.75 L156.04,136.62 L156.74,136.50 L157.44,136.37 L158.14,136.24 L158.84,136.11 L159.54,135.97 L160.24,135.84 L160.94,135.70 L161.64,135.56 L162.33,135.42 L163.03,135.27 L163.73,135.13 L164.43,134.98 L165.13,134.83 L165.83,134.68 L166.53,134.52 L167.23,134.37 L167.93,134.21 L168.62,134.05 L169.32,133.89 L170.02,133.72 L170.72,133.56 L171.42,133.39 L172.12,133.21 L172.82,133.04 L173.52,132.87 L174.22,132.69 L174.92,132.51 L175.61,132.32 L176.31,132.14 L177.01,131.95 L177.71,131.76 L178.41,131.57 L179.11,131.37 L179.81,131.18 L180.51,130.98 L181.21,130.78 L181.91,130.57 L182.60,130.36 L183.30,130.15 L184.00,129.94 L184.70,129.73 L185.40,129.51 L186.10,129.29 L186.80,129.07 L187.50,128.85 L188.20,128.62 L188.89,128.39 L189.59,128.16 L190.29,127.92 L190.99,127.69 L191.69,127.45 L192.39,127.20 L193.09,126.96 L193.79,126.71 L194.49,126.46 L195.19,126.21 L195.88,125.96 L196.58,125.70 L197.28,125.44 L197.98,125.17 L198.68,124.91 L199.38,124.64 L200.08,124.37 L200.78,124.10 L201.48,123.82 L202.18,123.54 L202.87,123.26 L203.57,122.98 L204.27,122.69 L204.97,122.40 L205.67,122.11 L206.37,121.82 L207.07,121.52 L207.77,121.22 L208.47,120.92 L209.16,120.62 L209.86,120.31 L210.56,120.00 L211.26,119.69 L211.96,119.38 L212.66,119.06 L213.36,118.75 L214.06,118.43 L214.76,118.10 L215.46,117.78 L216.15,117.45 L216.85,117.12 L217.55,116.79 L218.25,116.45 L218.95,116.12 L219.65,115.78 L220.35,115.44 L221.05,115.09 L221.75,114.75 L222.44,114.40 L223.14,114.05 L223.84,113.70 L224.54,113.35 L225.24,112.99 L225.94,112.63 L226.64,112.27 L227.34,111.91 L228.04,111.55 L228.74,111.18 L229.43,110.82 L230.13,110.45 L230.83,110.08 L231.53,109.71 L232.23,109.33 L232.93,108.96 L233.63,108.58 L234.33,108.20 L235.03,107.82 L235.73,107.44 L236.42,107.06 L237.12,106.67 L237.82,106.29 L238.52,105.90 L239.22,105.51 L239.92,105.12 L240.62,104.73 L241.32,104.34 L242.02,103.94 L242.71,103.55 L243.41,103.15 L244.11,102.75 L244.81,102.35 L245.51,101.96 L246.21,101.55 L246.91,101.15 L247.61,100.75 L248.31,100.35 L249.01,99.94 L249.70,99.54 L250.40,99.13 L251.10,98.72 L251.80,98.31 L252.50,97.90 L253.20,97.49 L253.90,97.08 L254.60,96.67 L255.30,96.26 L255.99,95.85 L256.69,95.43 L257.39,95.02 L258.09,94.60 L258.79,94.19 L259.49,93.77 L260.19,93.36 L260.89,92.94 L261.59,92.52 L262.29,92.10 L262.98,91.68 L263.68,91.27 L264.38,90.85 L265.08,90.42 L265.78,90.00 L266.48,89.58 L267.18,89.16 L267.88,88.74 L268.58,88.32 L269.28,87.89 L269.97,87.47 L270.67,87.05 L271.37,86.62 L272.07,86.20 L272.77,85.77 L273.47,85.35 L274.17,84.92 L274.87,84.50 L275.57,84.07 L276.26,83.65 L276.96,83.22 L277.66,82.79 L278.36,82.37 L279.06,81.94 L279.76,81.51 L280.46,81.09 L281.16,80.66 L281.86,80.23 L282.56,79.80 L283.25,79.37 L283.95,78.95 L284.65,78.52 L285.35,78.09 L286.05,77.66 L286.75,77.23 L287.45,76.80 L288.15,76.37 L288.85,75.94 L289.54,75.51 L290.24,75.08 L290.94,74.65 L291.64,74.22 L292.34,73.79 L293.04,73.36 L293.74,72.93 L294.44,72.50 L295.14,72.07 L295.84,71.64 L296.53,71.21 L297.23,70.78 L297.93,70.35 L298.63,69.92 L299.33,69.49 L300.03,69.06 L300.73,68.63 L301.43,68.19 L302.13,67.76 L302.82,67.33 L303.52,66.90 L304.22,66.47 L304.92,66.04 L305.62,65.60 L306.32,65.17 L307.02,64.74 L307.72,64.31 L308.42,63.88 L309.12,63.45 L309.81,63.01 L310.51,62.58 L311.21,62.15 L311.91,61.72 L312.61,61.29 L313.31,60.85 L314.01,60.42 L314.71,59.99 L315.41,59.56 L316.11,59.12 L316.80,58.69 L317.50,58.26 L318.20,57.83 L318.90,57.39 L319.60,56.96 L320.30,56.53 L321.00,56.10 L321.70,55.66 L322.40,55.23 L323.09,54.80 L323.79,54.37 L324.49,53.93 L325.19,53.50 L325.89,53.07 L326.59,52.64 L327.29,52.20 L327.99,51.77 L328.69,51.34 L329.39,50.91 L330.08,50.47 L330.78,50.04 L331.48,49.61 L332.18,49.17 L332.88,48.74 L333.58,48.31 L334.28,47.88 L334.98,47.44 L335.68,47.01 L336.38,46.58 L337.07,46.15 L337.77,45.71 L338.47,45.28 L339.17,44.85 L339.87,44.41 L340.57,43.98 L341.27,43.55 L341.97,43.11 L342.67,42.68 L343.36,42.25 L344.06,41.82 L344.76,41.38 L345.46,40.95 L346.16,40.52 L346.86,40.08 L347.56,39.65 L348.26,39.22 L348.96,38.79 L349.66,38.35 L350.35,37.92 L351.05,37.49 L351.75,37.05 L352.45,36.62 L353.15,36.19 L353.85,35.75 L354.55,35.32 L355.25,34.89 L355.95,34.46 L356.64,34.02 L357.34,33.59 L358.04,33.16 L358.74,32.72 L359.44,32.29 L360.14,31.86 L360.84,31.42 L361.54,30.99 L362.24,30.56 L362.94,30.12 L363.63,29.69 L364.33,29.26 L365.03,28.83 L365.73,28.39 L366.43,27.96 L367.13,27.53 L367.83,27.09 L368.53,26.66 L369.23,26.23 L369.92,25.79 L370.62,25.36 L371.32,24.93 L372.02,24.49 L372.72,24.06 L373.42,23.63 L374.12,23.20 L374.82,22.76 L375.52,22.33 L376.22,21.90 L376.91,21.46 L377.61,21.03 L378.31,20.60 L379.01,20.16 L379.71,19.73 L380.41,19.30 L381.11,18.86 L381.81,18.43 L382.51,18.00 L383.21,17.57 L383.90,17.13 L384.60,16.70 L385.30,16.27 L386.00,15.83 L386.70,15.40" stroke-width="1.1"/>
<path d="M51.20,150.36 L51.90,150.37 L52.60,150.38 L53.30,150.39 L54.00,150.41 L54.69,150.42 L55.39,150.43 L56.09,150.45 L56.79,150.46 L57.49,150.47 L58.19,150.49 L58.89,150.50 L59.59,150.52 L60.29,150.53 L60.99,150.55 L61.68,150.57 L62.38,150.58 L63.08,150.60 L63.78,150.61 L64.48,150.63 L65.18,150.65 L65.88,150.67 L66.58,150.69 L67.28,150.70 L67.98,150.72 L68.67,150.74 L69.37,150.76 L70.07,150.78 L70.77,150.80 L71.47,150.83 L72.17,150.85 L72.87,150.87 L73.57,150.89 L74.27,150.91 L74.96,150.94 L75.66,150.96 L76.36,150.99 L77.06,151.01 L77.76,151.04 L78.46,151.06 L79.16,151.09 L79.86,151.11 L80.56,151.14 L81.26,151.17 L81.95,151.20 L82.65,151.23 L83.35,151.26 L84.05,151.29 L84.75,151.32 L85.45,151.35 L86.15,151.38 L86.85,151.41 L87.55,151.45 L88.24,151.48 L88.94,151.52 L89.64,151.55 L90.34,151.59 L91.04,151.63 L91.74,151.66 L92.44,151.70 L93.14,151.74 L93.84,151.78 L94.54,151.82 L95.23,151.87 L95.93,151.91 L96.63,151.95 L97.33,152.00 L98.03,152.04 L98.73,152.09 L99.43,152.14 L100.13,152.19 L100.83,152.24 L101.53,152.29 L102.22,152.34 L102.92,152.39 L103.62,152.45 L104.32,152.50 L105.02,152.56 L105.72,152.62 L106.42,152.68 L107.12,152.74 L107.82,152.80 L108.51,152.86 L109.21,152.93 L109.91,152.99 L110.61,153.06 L111.31,153.13 L112.01,153.20 L112.71,153.27 L113.41,153.34 L114.11,153.42 L114.81,153.49 L115.50,153.57 L116.20,153.65 L116.90,153.73 L117.60,153.82 L118.30,153.90 L119.00,153.99 L119.70,154.08 L120.40,154.17 L121.10,154.27 L121.79,154.36 L122.49,154.46 L123.19,154.56 L123.89,154.66 L124.59,154.77 L125.29,154.88 L125.99,154.99 L126.69,155.10 L127.39,155.22 L128.09,155.34 L128.78,155.46 L129.48,155.58 L130.18,155.71 L130.88,155.84 L131.58,155.97 L132.28,156.11 L132.98,156.25 L133.68,156.39 L134.38,156.54 L135.07,156.69 L135.77,156.85 L136.47,157.01 L137.17,157.17 L137.87,157.34 L138.57,157.51 L139.27,157.68 L139.97,157.87 L140.67,158.05 L141.37,158.24 L142.06,158.44 L142.76,158.64 L143.46,158.85 L144.16,159.06 L144.86,159.28 L145.56,159.50 L146.26,159.74 L146.96,159.97 L147.66,160.22 L148.36,160.47 L149.05,160.73 L149.75,161.00 L150.45,161.28 L151.15,161.56 L151.85,161.85 L152.55,162.16 L153.25,162.47 L153.95,162.79 L154.65,163.12 L155.34,163.47 L156.04,163.82 L156.74,164.19 L157.44,164.57 L158.14,164.97 L158.84,165.38 L159.54,165.80 L160.24,166.24 L160.94,166.70 L161.64,167.17 L162.33,167.67 L163.03,168.18 L163.73,168.71 L164.43,169.27 L165.13,169.85 L165.83,170.46 L166.53,171.10 L167.23,171.76 L167.93,172.46 L168.62,173.19 L169.32,173.97 L170.02,174.78 L170.72,175.64 L171.42,176.54 L172.12,177.51 L172.82,178.53 L173.52,179.62 L174.22,180.79 L174.92,182.04 L175.61,183.39 L176.31,184.85 L177.01,186.43 L177.71,188.17 L178.41,190.09 L179.11,192.22 L179.81,194.61 L180.51,197.34 L181.21,200.50 L181.91,204.24 L182.60,208.81 L183.30,214.66 L184.00,222.73 M196.58,221.76 L197.28,212.78 L197.98,206.30 L198.68,201.20 L199.38,196.99 L200.08,193.39 L200.78,190.25 L201.48,187.46 L202.18,184.94 L202.87,182.64 L203.57,180.53 L204.27,178.57 L204.97,176.74 L205.67,175.03 L206.37,173.41 L207.07,171.89 L207.77,170.44 L208.47,169.05 L209.16,167.74 L209.86,166.47 L210.56,165.26 L211.26,164.09 L211.96,162.97 L212.66,161.88 L213.36,160.83 L214.06,159.81 L214.76,158.82 L215.46,157.86 L216.15,156.93 L216.85,156.02 L217.55,155.13 L218.25,154.27 L218.95,153.42 L219.65,152.60 L220.35,151.79 L221.05,151.00 L221.75,150.22 L222.44,149.46 L223.14,148.71 L223.84,147.98 L224.54,147.26 L225.24,146.55 L225.94,145.85 L226.64,145.17 L227.34,144.49 L228.04,143.83 L228.74,143.17 L229.43,142.52 L230.13,141.88 L230.83,141.25 L231.53,140.63 L232.23,140.01 L232.93,139.41 L233.63,138.80 L234.33,138.21 L235.03,137.62 L235.73,137.04 L236.42,136.46 L237.12,135.89 L237.82,135.32 L238.52,134.76 L239.22,134.20 L239.92,133.65 L240.62,133.10 L241.32,132.56 L242.02,132.02 L242.71,131.48 L243.41,130.95 L244.11,130.42 L244.81,129.90 L245.51,129.38 L246.21,128.86 L246.91,128.35 L247.61,127.83 L248.31,127.33 L249.01,126.82 L249.70,126.32 L250.40,125.81 L251.10,125.32 L251.80,124.82 L252.50,124.33 L253.20,123.83 L253.90,123.35 L254.60,122.86 L255.30,122.37 L255.99,121.89 L256.69,121.41 L257.39,120.93 L258.09,120.45 L258.79,119.97 L259.49,119.50 L260.19,119.02 L260.89,118.55 L261.59,118.08 L262.29,117.61 L262.98,117.14 L263.68,116.68 L264.38,116.21 L265.08,115.75 L265.78,115.28 L266.48,114.82 L267.18,114.36 L267.88,113.90 L268.58,113.44 L269.28,112.98 L269.97,112.52 L270.67,112.07 L271.37,111.61 L272.07,111.16 L272.77,110.70 L273.47,110.25 L274.17,109.80 L274.87,109.34 L275.57,108.89 L276.26,108.44 L276.96,107.99 L277.66,107.54 L278.36,107.09 L279.06,106.65 L279.76,106.20 L280.46,105.75 L281.16,105.30 L281.86,104.86 L282.56,104.41 L283.25,103.97 L283.95,103.52 L284.65,103.08 L285.35,102.63 L286.05,102.19 L286.75,101.75 L287.45,101.31 L288.15,100.86 L288.85,100.42 L289.54,99.98 L290.24,99.54 L290.94,99.10 L291.64,98.66 L292.34,98.21 L293.04,97.77 L293.74,97.33 L294.44,96.89 L295.14,96.45 L295.84,96.02 L296.53,95.58 L297.23,95.14 L297.93,94.70 L298.63,94.26 L299.33,93.82 L300.03,93.38 L300.73,92.95 L301.43,92.51 L302.13,92.07 L302.82,91.63 L303.52,91.20 L304.22,90.76 L304.92,90.32 L305.62,89.89 L306.32,89.45 L307.02,89.01 L307.72,88.58 L308.42,88.14 L309.12,87.70 L309.81,87.27 L310.51,86.83 L311.21,86.40 L311.91,85.96 L312.61,85.52 L313.31,85.09 L314.01,84.65 L314.71,84.22 L315.41,83.78 L316.11,83.35 L316.80,82.91 L317.50,82.48 L318.20,82.04 L318.90,81.61 L319.60,81.17 L320.30,80.74 L321.00,80.30 L321.70,79.87 L322.40,79.43 L323.09,79.00 L323.79,78.56 L324.49,78.13 L325.19,77.70 L325.89,77.26 L326.59,76.83 L327.29,76.39 L327.99,75.96 L328.69,75.52 L329.39,75.09 L330.08,74.66 L330.78,74.22 L331.48,73.79 L332.18,73.35 L332.88,72.92 L333.58,72.49 L334.28,72.05 L334.98,71.62 L335.68,71.18 L336.38,70.75 L337.07,70.32 L337.77,69.88 L338.47,69.45 L339.17,69.02 L339.87,68.58 L340.57,68.15 L341.27,67.71 L341.97,67.28 L342.67,66.85 L343.36,66.41 L344.06,65.98 L344.76,65.55 L345.46,65.11 L346.16,64.68 L346.86,64.25 L347.56,63.81 L348.26,63.38 L348.96,62.95 L349.66,62.51 L350.35,62.08 L351.05,61.65 L351.75,61.21 L352.45,60.78 L353.15,60.34 L353.85,59.91 L354.55,59.48 L355.25,59.04 L355.95,58.61 L356.64,58.18 L357.34,57.74 L358.04,57.31 L358.74,56.88 L359.44,56.44 L360.14,56.01 L360.84,55.58 L361.54,55.14 L362.24,54.71 L362.94,54.28 L363.63,53.85 L364.33,53.41 L365.03,52.98 L365.73,52.55 L366.43,52.11 L367.13,51.68 L367.83,51.25 L368.53,50.81 L369.23,50.38 L369.92,49.95 L370.62,49.51 L371.32,49.08 L372.02,48.65 L372.72,48.21 L373.42,47.78 L374.12,47.35 L374.82,46.91 L375.52,46.48 L376.22,46.05 L376.91,45.61 L377.61,45.18 L378.31,44.75 L379.01,44.31 L379.71,43.88 L380.41,43.45 L381.11,43.01 L381.81,42.58 L382.51,42.15 L383.21,41.71 L383.90,41.28 L384.60,40.85 L385.30,40.42 L386.00,39.98 L386.70,39.55" stroke-width="1.1" stroke-dasharray="4.4 1.8"/>
</g>
<!-- top grey border -->
<path d="M51.2,39.2 H386.7" stroke="#777" stroke-width="0.5" stroke-dasharray="1.2 1" fill="none"/>
<!-- red dashed lines -->
<g stroke="#ff1a1a" stroke-width="1.1" stroke-dasharray="4 2.4" fill="none">
<path d="M51.2,47.4 H386.7"/>
<path d="M51.2,69.4 H386.7"/>
<path d="M51.2,119.1 H386.7"/>
<path d="M247.7,223.3 V15.4"/>
<path d="M322.1,223.3 V15.4"/>
</g>
<!-- cosmology line -->
<path d="M346.6,15.4 V223.3" stroke="#000" stroke-width="1" fill="none"/>
<!-- frame -->
<rect x="51.2" y="15.4" width="335.5" height="207.9" fill="none" stroke="#2a2a2a" stroke-width="0.6"/>
<g stroke="#333" stroke-width="0.5" fill="none">
<path stroke="#444" stroke-width="0.5" d="M51.20,223.30 v-2.90 M51.20,15.40 v2.90 M51.20,223.30 h2.90 M386.70,223.30 h-2.90"/>
<path stroke="#000" stroke-width="0.6" d="M76.45,223.30 v-1.50 M76.45,15.40 v1.50 M51.20,207.65 h1.50 M386.70,207.65 h-1.50"/>
<path stroke="#000" stroke-width="0.6" d="M91.22,223.30 v-1.50 M91.22,15.40 v1.50 M51.20,198.50 h1.50 M386.70,198.50 h-1.50"/>
<path stroke="#000" stroke-width="0.6" d="M101.70,223.30 v-1.50 M101.70,15.40 v1.50 M51.20,192.01 h1.50 M386.70,192.01 h-1.50"/>
<path stroke="#000" stroke-width="0.6" d="M109.83,223.30 v-1.50 M109.83,15.40 v1.50 M51.20,186.97 h1.50 M386.70,186.97 h-1.50"/>
<path stroke="#000" stroke-width="0.6" d="M116.47,223.30 v-1.50 M116.47,15.40 v1.50 M51.20,182.86 h1.50 M386.70,182.86 h-1.50"/>
<path stroke="#000" stroke-width="0.6" d="M122.08,223.30 v-1.50 M122.08,15.40 v1.50 M51.20,179.38 h1.50 M386.70,179.38 h-1.50"/>
<path stroke="#000" stroke-width="0.6" d="M126.95,223.30 v-1.50 M126.95,15.40 v1.50 M51.20,176.36 h1.50 M386.70,176.36 h-1.50"/>
<path stroke="#000" stroke-width="0.6" d="M131.24,223.30 v-1.50 M131.24,15.40 v1.50 M51.20,173.70 h1.50 M386.70,173.70 h-1.50"/>
<path stroke="#444" stroke-width="0.5" d="M135.07,223.30 v-2.90 M135.07,15.40 v2.90 M51.20,171.33 h2.90 M386.70,171.33 h-2.90"/>
<path stroke="#000" stroke-width="0.6" d="M160.32,223.30 v-1.50 M160.32,15.40 v1.50 M51.20,155.68 h1.50 M386.70,155.68 h-1.50"/>
<path stroke="#000" stroke-width="0.6" d="M175.09,223.30 v-1.50 M175.09,15.40 v1.50 M51.20,146.53 h1.50 M386.70,146.53 h-1.50"/>
<path stroke="#000" stroke-width="0.6" d="M185.57,223.30 v-1.50 M185.57,15.40 v1.50 M51.20,140.03 h1.50 M386.70,140.03 h-1.50"/>
<path stroke="#000" stroke-width="0.6" d="M193.70,223.30 v-1.50 M193.70,15.40 v1.50 M51.20,135.00 h1.50 M386.70,135.00 h-1.50"/>
<path stroke="#000" stroke-width="0.6" d="M200.34,223.30 v-1.50 M200.34,15.40 v1.50 M51.20,130.88 h1.50 M386.70,130.88 h-1.50"/>
<path stroke="#000" stroke-width="0.6" d="M205.96,223.30 v-1.50 M205.96,15.40 v1.50 M51.20,127.40 h1.50 M386.70,127.40 h-1.50"/>
<path stroke="#000" stroke-width="0.6" d="M210.82,223.30 v-1.50 M210.82,15.40 v1.50 M51.20,124.39 h1.50 M386.70,124.39 h-1.50"/>
<path stroke="#000" stroke-width="0.6" d="M215.11,223.30 v-1.50 M215.11,15.40 v1.50 M51.20,121.73 h1.50 M386.70,121.73 h-1.50"/>
<path stroke="#444" stroke-width="0.5" d="M218.95,223.30 v-2.90 M218.95,15.40 v2.90 M51.20,119.35 h2.90 M386.70,119.35 h-2.90"/>
<path stroke="#000" stroke-width="0.6" d="M244.20,223.30 v-1.50 M244.20,15.40 v1.50 M51.20,103.70 h1.50 M386.70,103.70 h-1.50"/>
<path stroke="#000" stroke-width="0.6" d="M258.97,223.30 v-1.50 M258.97,15.40 v1.50 M51.20,94.55 h1.50 M386.70,94.55 h-1.50"/>
<path stroke="#000" stroke-width="0.6" d="M269.45,223.30 v-1.50 M269.45,15.40 v1.50 M51.20,88.06 h1.50 M386.70,88.06 h-1.50"/>
<path stroke="#000" stroke-width="0.6" d="M277.58,223.30 v-1.50 M277.58,15.40 v1.50 M51.20,83.02 h1.50 M386.70,83.02 h-1.50"/>
<path stroke="#000" stroke-width="0.6" d="M284.22,223.30 v-1.50 M284.22,15.40 v1.50 M51.20,78.91 h1.50 M386.70,78.91 h-1.50"/>
<path stroke="#000" stroke-width="0.6" d="M289.83,223.30 v-1.50 M289.83,15.40 v1.50 M51.20,75.43 h1.50 M386.70,75.43 h-1.50"/>
<path stroke="#000" stroke-width="0.6" d="M294.70,223.30 v-1.50 M294.70,15.40 v1.50 M51.20,72.41 h1.50 M386.70,72.41 h-1.50"/>
<path stroke="#000" stroke-width="0.6" d="M298.99,223.30 v-1.50 M298.99,15.40 v1.50 M51.20,69.75 h1.50 M386.70,69.75 h-1.50"/>
<path stroke="#444" stroke-width="0.5" d="M302.82,223.30 v-2.90 M302.82,15.40 v2.90 M51.20,67.38 h2.90 M386.70,67.38 h-2.90"/>
<path stroke="#000" stroke-width="0.6" d="M328.07,223.30 v-1.50 M328.07,15.40 v1.50 M51.20,51.73 h1.50 M386.70,51.73 h-1.50"/>
<path stroke="#000" stroke-width="0.6" d="M342.84,223.30 v-1.50 M342.84,15.40 v1.50 M51.20,42.58 h1.50 M386.70,42.58 h-1.50"/>
<path stroke="#000" stroke-width="0.6" d="M353.32,223.30 v-1.50 M353.32,15.40 v1.50 M51.20,36.08 h1.50 M386.70,36.08 h-1.50"/>
<path stroke="#000" stroke-width="0.6" d="M361.45,223.30 v-1.50 M361.45,15.40 v1.50 M51.20,31.05 h1.50 M386.70,31.05 h-1.50"/>
<path stroke="#000" stroke-width="0.6" d="M368.09,223.30 v-1.50 M368.09,15.40 v1.50 M51.20,26.93 h1.50 M386.70,26.93 h-1.50"/>
<path stroke="#000" stroke-width="0.6" d="M373.71,223.30 v-1.50 M373.71,15.40 v1.50 M51.20,23.45 h1.50 M386.70,23.45 h-1.50"/>
<path stroke="#000" stroke-width="0.6" d="M378.57,223.30 v-1.50 M378.57,15.40 v1.50 M51.20,20.44 h1.50 M386.70,20.44 h-1.50"/>
<path stroke="#000" stroke-width="0.6" d="M382.86,223.30 v-1.50 M382.86,15.40 v1.50 M51.20,17.78 h1.50 M386.70,17.78 h-1.50"/>
<path stroke="#444" stroke-width="0.5" d="M386.70,223.30 v-2.90 M386.70,15.40 v2.90 M51.20,15.40 h2.90 M386.70,15.40 h-2.90"/>
</g>
<!-- tick labels -->
<g class="t" text-anchor="end">
<text x="49" y="20.1">1</text>
<text x="48.6" y="71.1">0.1</text>
<text x="48.6" y="123.1">0.01</text>
<text x="48.6" y="175.1">0.001</text>
<text x="47.9" y="228.9">10<tspan font-size="10" dy="-5.5">−4</tspan></text>
</g>
<g class="t" text-anchor="middle">
<text x="51.0" y="238.8">10<tspan font-size="10" dy="-5.5">−4</tspan></text>
<text x="134.9" y="236.8">0.001</text>
<text x="218.5" y="236.8">0.01</text>
<text x="302.5" y="236.8">0.1</text>
<text x="387.3" y="236.8">1</text>
</g>
<!-- labels -->
<text transform="translate(110.25,31.60)" letter-spacing="-0.321" font-size="13.2" fill="#000" stroke="#000" stroke-width="0.15">Disfavored by 0<tspan class="i">νββ</tspan></text>
<text transform="translate(76.80,57.50)" letter-spacing="-0.400" font-size="13.2" fill="#ff1a1a" stroke="#ff1a1a" stroke-width="0.22">I</text>
<text transform="translate(58.00,67.50)" letter-spacing="-0.450" font-size="13.2" fill="#ff1a1a" stroke="#ff1a1a" stroke-width="0.22">II</text>
<text transform="translate(57.70,130.50)" letter-spacing="-0.306" font-size="13.2" fill="#ff1a1a" stroke="#ff1a1a" stroke-width="0.22">GERDA III</text>
<text transform="translate(134.90,98.90)" letter-spacing="-0.142" font-size="13.2" fill="#fff" stroke="#fff" stroke-width="0.15">Δm<tspan font-size="8.6" dy="-5.4">2</tspan><tspan font-size="8.6" dy="8.0" dx="-4.3">31</tspan><tspan dy="-2.6" dx="0.8">&lt;0</tspan></text>
<text transform="translate(160.20,152.20)" letter-spacing="-0.108" font-size="13.2" fill="#fff" stroke="#fff" stroke-width="0.15">Δm<tspan font-size="8.6" dy="-5.4">2</tspan><tspan font-size="8.6" dy="8.0" dx="-4.3">31</tspan><tspan dy="-2.6" dx="0.8">&gt;0</tspan></text>
<text transform="translate(57.25,194.50)" letter-spacing="-0.200" font-size="13.2" fill="#000" stroke="#000" stroke-width="0.15"><tspan class="i">U</tspan><tspan font-size="10" dy="2.2">e3</tspan><tspan dy="-2.2">=0.0−0.00076</tspan></text>
<text transform="translate(57.95,209.90)" letter-spacing="-0.188" font-size="13.2" fill="#000" stroke="#000" stroke-width="0.15">1<tspan class="i">σ</tspan><tspan dx="1.5"> ranges</tspan></text>
<text transform="translate(259.90,214.85) rotate(-90)" letter-spacing="-0.550" font-size="13.2" fill="#ff1a1a" stroke="#ff1a1a" stroke-width="0.22">Planck</text>
<text transform="translate(333.10,217.65) rotate(-90)" letter-spacing="-0.410" font-size="13.2" fill="#ff1a1a" stroke="#ff1a1a" stroke-width="0.22">KATRIN</text>
<text transform="translate(372.30,201.45) rotate(-90)" letter-spacing="-0.377" font-size="13.2" fill="#000" stroke="#000" stroke-width="0.15">Disfavored by Cosmology</text>
<text transform="translate(192.80,256.80)" letter-spacing="0.025" font-size="13.9" fill="#000" stroke="#000" stroke-width="0.15"><tspan class="i">m</tspan><tspan font-size="10.5" dy="1.8">1,3</tspan><tspan dy="-1.8"> [eV]</tspan></text>
<text transform="translate(9.70,147.00) rotate(-90)" letter-spacing="0.272" font-size="13.7" fill="#000" stroke="#000" stroke-width="0.15">|<tspan class="i">m</tspan><tspan font-size="10.5" dy="2.6">ee</tspan><tspan dy="-2.6">| [eV]</tspan></text>
</svg>
</body></html>
